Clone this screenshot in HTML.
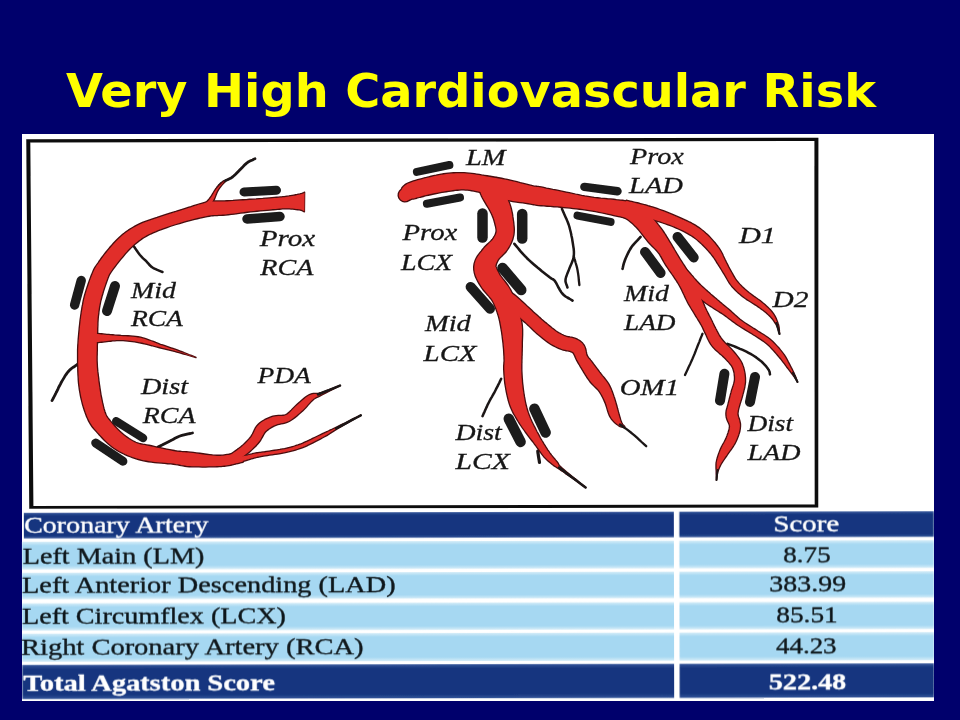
<!DOCTYPE html>
<html><head><meta charset="utf-8"><title>Very High Cardiovascular Risk</title>
<style>
html,body{margin:0;padding:0}
body{width:960px;height:720px;overflow:hidden;background:#00006c;position:relative;font-family:"Liberation Serif",serif}
h1{position:absolute;left:66px;top:60.8px;margin:0;font:bold 46px/60px "DejaVu Sans","Liberation Sans",sans-serif;color:#ffff00;white-space:nowrap;transform-origin:0 50%;transform:scaleX(1.0386)}
#pic{position:absolute;left:21.75px;top:133.75px;width:912px;height:567px;background:#fff}
svg{position:absolute;left:0;top:0}
.lbl text{font:italic 23.5px "Liberation Serif",serif;fill:#161616;stroke:#161616;stroke-width:.3px}
.tbl text{font:22.5px "Liberation Serif",serif;fill:#10181c;stroke:#10181c;stroke-width:.35px}
.tbl text.w{fill:#fff;stroke:#fff}
.tbl text.wb{fill:#fff;stroke:#fff;font-weight:bold}
</style></head><body>
<h1>Very High Cardiovascular Risk</h1>
<div id="pic"></div>
<svg width="960" height="720" viewBox="0 0 960 720">
<defs>
<linearGradient id="gr" x1="0" y1="0" x2="0" y2="1"><stop offset="0" stop-color="#d6edf8"/><stop offset="0.14" stop-color="#a6d8f2"/><stop offset="0.86" stop-color="#a6d8f2"/><stop offset="1" stop-color="#d6edf8"/></linearGradient>
<linearGradient id="gh" x1="0" y1="0" x2="0" y2="1"><stop offset="0" stop-color="#35569a"/><stop offset="0.12" stop-color="#16367f"/><stop offset="0.88" stop-color="#16367f"/><stop offset="1" stop-color="#35569a"/></linearGradient>
<filter id="bl" x="-2%" y="-2%" width="104%" height="104%"><feGaussianBlur stdDeviation="0.55"/></filter>
</defs>
<g filter="url(#bl)">
<path fill="#0c0c0c" fill-rule="evenodd" d="M26.25,139.25 L818.4,137.8 L818.25,507.4 L29.25,508.75Z M30.3,142.6 L814.4,141 L814.7,504.5 L33.4,506Z"/>
<g fill="none" stroke="#1a1414" stroke-linecap="round" stroke-linejoin="round"><path d="M212.5,201.0 212.7,200.2 212.8,199.5 212.9,198.8 213.1,198.0 213.3,197.1 213.8,196.0 214.4,194.6 215.1,192.9 215.9,191.0 216.9,189.1 217.8,187.4 218.8,186.0 219.7,184.9 220.7,183.9 221.7,183.1 222.8,182.4 223.9,181.7 225.0,181.0 226.2,180.3 227.4,179.8 228.6,179.2 229.9,178.6 231.2,177.9 232.5,177.0 233.9,175.8 235.3,174.5 236.8,173.0 238.3,171.5 239.7,170.1 241.0,168.8 242.2,167.6 243.3,166.4 244.3,165.3 245.3,164.3 246.4,163.4 247.5,162.5 248.7,161.7 249.9,161.1 251.2,160.5 252.5,159.9 253.7,159.3 255.0,158.8" stroke-width="2.8"/>
<path d="M133.8,246.2 134.8,247.7 135.8,249.3 136.9,250.8 137.9,252.3 139.0,253.7 140.0,255.0 141.0,256.2 142.1,257.3 143.1,258.3 144.2,259.3 145.2,260.2 146.2,261.2 147.2,262.3 148.2,263.4 149.1,264.5 150.1,265.5 151.2,266.6 152.5,267.5 153.9,268.4 155.6,269.1 157.3,269.9 159.0,270.6 160.8,271.3 162.5,272.0" stroke-width="2.5"/>
<path d="M78.0,364.0 76.4,365.1 74.9,366.2 73.3,367.2 71.7,368.3 70.2,369.6 68.8,371.0 67.4,372.7 66.0,374.6 64.7,376.6 63.5,378.6 62.3,380.6 61.2,382.5 60.3,384.3 59.4,386.0 58.5,387.7 57.8,389.4 57.0,391.0 56.2,392.5 55.5,394.0 54.8,395.3 54.1,396.7 53.4,398.0 52.7,399.3 52.0,400.6" stroke-width="2.8"/>
<path d="M158.0,447.0 160.0,446.0 162.1,445.0 164.1,443.9 166.1,442.9 168.1,441.9 170.0,441.0 171.8,440.1 173.4,439.2 175.0,438.3 176.6,437.5 178.2,436.7 180.0,436.0 181.9,435.4 184.0,434.9 186.1,434.4 188.2,433.9 190.4,433.5 192.5,433.0" stroke-width="2.8"/>
<path d="M514.4,243.8 516.1,245.8 517.9,248.0 519.6,250.1 521.3,252.2 523.1,254.2 525.0,256.2 527.0,258.2 529.0,260.1 531.1,262.0 533.3,263.9 535.4,265.7 537.5,267.5 539.7,269.3 541.9,271.2 544.2,273.0 546.4,274.7 548.4,276.2 550.0,277.5 551.2,278.4 552.1,278.9 552.8,279.2 553.4,279.6 554.1,280.2 555.0,281.2 556.1,282.9 557.2,285.0 558.4,287.3 559.7,289.7 561.1,291.9 562.5,293.8 564.0,295.2 565.6,296.5 567.3,297.5 569.1,298.5 570.8,299.5 572.5,300.6" stroke-width="2.6"/>
<path d="M561.9,208.8 563.1,211.5 564.3,214.2 565.5,216.9 566.7,219.6 567.8,222.3 568.8,225.0 569.6,227.7 570.3,230.5 571.0,233.2 571.5,235.9 572.1,238.6 572.5,241.2 572.9,243.8 573.3,246.4 573.7,248.9 573.9,251.4 573.9,253.8 573.8,256.2 573.3,258.7 572.5,261.1 571.5,263.4 570.5,265.7 569.6,267.9 568.8,270.0 568.0,271.9 567.3,273.7 566.7,275.4 566.1,277.0 565.7,278.5 565.5,280.0 565.5,281.4 565.8,282.7 566.2,283.9 566.6,285.1 567.1,286.3 567.5,287.5" stroke-width="2.5"/>
<path d="M573.8,256.2 574.4,258.5 575.1,260.8 575.7,263.0 576.4,265.3 577.0,267.6 577.5,270.0 577.9,272.4 578.3,274.9 578.6,277.4 578.8,280.0 579.1,282.5 579.4,285.0" stroke-width="2.3"/>
<path d="M640.6,236.9 639.0,238.6 637.4,240.4 635.7,242.1 634.1,243.8 632.6,245.6 631.2,247.5 630.0,249.5 628.8,251.7 627.7,253.9 626.7,256.0 625.8,258.1 625.0,260.0 624.4,261.7 623.9,263.2 623.5,264.6 623.2,266.0 622.9,267.3 622.5,268.8" stroke-width="2.6"/>
<path d="M702.5,333.8 701.7,335.8 700.8,337.9 700.0,340.0 699.2,342.1 698.3,344.2 697.5,346.2 696.7,348.3 695.9,350.3 695.2,352.3 694.4,354.3 693.5,356.4 692.5,358.8 691.4,361.2 690.2,363.9 688.9,366.6 687.6,369.4 686.3,372.2 685.0,375.0" stroke-width="2.3"/>
<path d="M727.5,343.8 729.6,344.6 731.7,345.4 733.8,346.2 735.8,347.0 737.9,347.8 740.0,348.8 742.1,349.7 744.3,350.7 746.4,351.7 748.5,352.8 750.6,353.9 752.5,355.0 754.4,356.2 756.2,357.4 757.9,358.7 759.5,360.0 761.1,361.2 762.5,362.5 763.8,363.8 765.0,365.1 766.2,366.4 767.2,367.7 768.0,368.9 768.8,370.0 769.2,370.9 769.5,371.7 769.7,372.4 769.8,373.0 769.8,373.7 770.0,374.4" stroke-width="2.5"/>
<path d="M501.2,378.8 500.2,380.8 499.2,383.0 498.1,385.1 497.1,387.2 496.0,389.2 495.0,391.2 494.0,393.2 492.9,395.0 491.9,396.8 490.8,398.6 489.8,400.5 488.8,402.5 487.7,404.6 486.7,406.9 485.6,409.2 484.6,411.6 483.5,413.9 482.5,416.2" stroke-width="2.5"/>
<path d="M537.8,451.2 538.0,453.1 538.3,455.0 538.6,456.9 538.9,458.8 539.2,460.6 539.5,462.5" stroke-width="3.2"/></g>
<g fill="#4a0d0f" stroke="#4a0d0f" stroke-width="1.4" stroke-linejoin="round"><path d="M304.6,192.2 304.1,192.4 303.8,192.6 303.4,192.8 302.9,193.0 302.3,193.3 301.6,193.5 300.8,193.7 299.8,194.0 298.6,194.2 297.2,194.5 295.6,194.8 294.0,195.1 292.3,195.4 290.5,195.7 288.8,196.0 287.1,196.2 285.6,196.4 284.2,196.6 282.9,196.7 281.5,196.9 280.1,197.0 278.5,197.1 276.7,197.3 274.5,197.5 272.0,197.7 269.1,197.9 266.0,198.1 262.8,198.4 259.4,198.6 256.0,198.9 252.7,199.1 249.4,199.3 246.2,199.6 242.9,199.8 239.5,200.0 236.2,200.2 233.0,200.5 229.9,200.7 227.0,200.8 224.5,201.0 222.4,201.0 220.6,201.0 218.9,201.0 217.2,200.9 215.4,200.9 213.4,201.0 211.2,201.1 208.8,201.5 206.4,202.0 203.9,202.6 201.4,203.3 198.9,204.1 196.3,204.9 193.6,205.7 191.0,206.6 188.2,207.5 185.3,208.4 182.2,209.3 179.0,210.3 175.8,211.4 172.5,212.4 169.2,213.5 166.0,214.5 163.0,215.5 160.0,216.5 157.0,217.5 154.0,218.4 151.1,219.4 148.2,220.4 145.3,221.4 142.5,222.5 139.8,223.7 137.3,224.9 134.9,226.2 132.6,227.5 130.4,228.8 128.3,230.2 126.3,231.6 124.4,233.1 122.4,234.6 120.5,236.2 118.6,238.0 116.8,239.7 115.1,241.5 113.4,243.3 111.8,245.1 110.3,246.8 108.8,248.6 107.3,250.4 105.8,252.3 104.3,254.2 102.8,256.1 101.4,258.0 100.1,259.8 98.9,261.5 97.9,263.1 97.0,264.3 96.3,265.3 95.6,266.3 94.9,267.4 94.2,268.6 93.6,269.9 93.0,271.3 92.3,273.0 91.4,275.1 90.5,277.6 89.5,280.3 88.4,283.2 87.4,286.2 86.4,289.2 85.5,292.1 84.7,294.8 84.0,297.4 83.4,300.0 82.9,302.5 82.5,304.9 82.0,307.2 81.7,309.5 81.3,311.7 81.0,313.8 80.7,315.9 80.4,318.0 80.1,319.9 79.9,321.8 79.7,323.7 79.5,325.5 79.3,327.4 79.1,329.4 78.9,331.5 78.7,333.7 78.5,336.0 78.3,338.4 78.1,340.7 78.0,343.1 77.8,345.4 77.7,347.7 77.6,349.9 77.6,352.1 77.6,354.2 77.6,356.4 77.6,358.6 77.6,360.8 77.6,363.1 77.7,365.4 77.8,367.8 77.8,370.2 77.9,372.7 78.0,375.3 78.2,377.8 78.3,380.3 78.5,382.8 78.8,385.3 79.1,387.6 79.4,389.9 79.8,392.2 80.2,394.4 80.6,396.7 81.1,398.9 81.7,401.1 82.2,403.3 82.8,405.5 83.5,407.7 84.2,410.0 85.0,412.2 85.8,414.5 86.6,416.7 87.6,418.8 88.5,420.9 89.5,422.7 90.5,424.4 91.6,426.0 92.7,427.5 93.8,428.8 94.9,430.1 96.1,431.4 97.4,432.8 98.8,434.4 100.4,436.1 102.1,438.0 104.0,439.9 105.9,441.8 108.0,443.7 110.1,445.5 112.2,447.2 114.4,448.7 116.5,450.1 118.7,451.4 120.9,452.6 123.2,453.7 125.5,454.8 127.8,455.8 130.1,456.7 132.4,457.6 134.7,458.4 136.9,459.1 139.2,459.7 141.4,460.3 143.6,460.8 146.0,461.2 148.5,461.7 151.4,462.1 154.6,462.5 157.9,462.8 161.3,463.1 164.6,463.4 167.8,463.7 170.9,463.9 173.5,464.2 175.8,464.6 177.8,464.9 179.6,465.2 181.3,465.6 183.0,465.9 184.9,466.2 187.0,466.5 189.4,466.7 192.2,466.8 195.3,466.9 198.7,466.9 202.2,467.0 205.7,467.0 209.1,466.9 212.2,466.9 214.9,466.8 217.2,466.7 219.2,466.6 221.1,466.5 222.7,466.4 224.3,466.2 225.7,466.0 227.2,465.8 228.9,465.5 230.7,465.2 232.5,464.8 234.3,464.4 236.1,463.9 237.9,463.5 239.7,463.0 241.4,462.6 243.1,462.2 240.9,451.8 239.1,452.2 237.3,452.6 235.5,453.0 233.7,453.3 232.0,453.7 230.3,454.0 228.7,454.3 227.1,454.5 225.6,454.7 224.2,454.9 222.9,455.1 221.7,455.2 220.4,455.3 218.9,455.3 217.2,455.3 215.1,455.2 212.6,455.0 209.7,454.7 206.5,454.3 203.1,453.8 199.7,453.3 196.4,452.9 193.3,452.5 190.6,452.1 188.4,451.9 186.4,451.8 184.7,451.7 183.1,451.6 181.5,451.5 179.7,451.3 177.8,451.1 175.5,450.8 172.8,450.3 169.8,449.7 166.7,449.1 163.4,448.4 160.2,447.7 157.1,447.1 154.1,446.4 151.5,445.8 149.0,445.3 146.7,444.9 144.6,444.5 142.7,444.2 140.9,443.8 139.3,443.4 137.6,442.9 135.9,442.3 134.2,441.5 132.5,440.6 130.8,439.6 129.1,438.5 127.5,437.4 125.9,436.2 124.3,435.0 122.8,433.8 121.3,432.5 119.7,431.0 118.1,429.4 116.5,427.8 114.9,426.1 113.3,424.4 111.9,422.7 110.6,421.2 109.5,419.8 108.6,418.7 107.8,417.7 107.3,416.8 106.8,416.1 106.4,415.3 105.9,414.3 105.5,413.1 105.0,411.8 104.5,410.2 104.0,408.5 103.5,406.6 103.1,404.7 102.6,402.7 102.2,400.6 101.8,398.7 101.4,396.7 101.0,394.8 100.7,392.9 100.4,390.9 100.1,388.9 99.8,386.9 99.5,384.8 99.2,382.7 98.9,380.6 98.7,378.3 98.4,376.1 98.1,373.7 97.8,371.4 97.6,369.1 97.4,366.8 97.3,364.6 97.2,362.5 97.1,360.5 97.1,358.5 97.1,356.5 97.2,354.5 97.2,352.5 97.3,350.4 97.3,348.3 97.3,346.1 97.4,343.9 97.4,341.6 97.4,339.4 97.5,337.1 97.5,334.9 97.6,332.7 97.7,330.6 97.7,328.6 97.8,326.7 97.9,324.9 97.9,323.2 98.0,321.5 98.1,319.8 98.2,318.1 98.4,316.2 98.7,314.1 98.9,312.1 99.2,310.0 99.5,307.8 99.9,305.7 100.3,303.6 100.7,301.4 101.3,299.2 101.9,296.8 102.7,294.2 103.5,291.4 104.4,288.6 105.3,285.9 106.2,283.3 107.0,281.0 107.7,279.0 108.3,277.5 108.7,276.4 109.0,275.8 109.2,275.3 109.4,274.9 109.7,274.3 110.3,273.4 111.1,272.1 112.1,270.7 113.2,269.2 114.4,267.5 115.7,265.8 117.0,264.1 118.4,262.3 119.8,260.6 121.2,258.9 122.6,257.3 124.0,255.6 125.4,253.9 126.8,252.3 128.2,250.7 129.7,249.2 131.1,247.8 132.6,246.4 134.1,245.0 135.7,243.7 137.3,242.4 138.9,241.1 140.6,239.9 142.3,238.6 144.2,237.5 146.2,236.3 148.3,235.2 150.6,234.0 153.1,232.9 155.7,231.8 158.4,230.7 161.3,229.6 164.1,228.5 167.0,227.5 170.0,226.4 173.1,225.4 176.3,224.4 179.5,223.5 182.7,222.5 185.9,221.6 188.9,220.8 191.8,220.0 194.6,219.3 197.3,218.7 199.9,218.1 202.4,217.5 204.8,217.0 207.0,216.6 209.2,216.2 211.2,215.9 212.9,215.7 214.3,215.6 215.7,215.5 217.2,215.5 218.8,215.4 220.8,215.4 223.0,215.2 225.5,215.0 228.3,214.7 231.2,214.4 234.3,214.0 237.5,213.5 240.8,213.1 244.2,212.7 247.4,212.2 250.6,211.9 253.8,211.5 257.1,211.2 260.4,210.9 263.8,210.6 267.0,210.3 270.1,210.0 273.0,209.7 275.5,209.5 277.7,209.3 279.5,209.2 281.1,209.0 282.5,208.9 283.8,208.8 285.1,208.8 286.4,208.8 287.9,208.8 289.5,208.8 291.1,209.0 292.8,209.1 294.5,209.3 296.1,209.5 297.7,209.7 299.1,209.9 300.2,210.0 301.1,210.2 301.8,210.5 302.2,210.7 302.6,210.9 302.9,211.1 303.4,211.3 303.9,211.6 304.4,211.8Z"/>
<path d="M234.8,462.9 236.4,461.7 238.1,460.6 239.7,459.4 241.4,458.2 243.1,457.0 244.8,455.7 246.5,454.5 248.1,453.2 249.6,451.9 251.1,450.6 252.5,449.3 253.8,448.0 255.2,446.7 256.5,445.4 257.7,444.0 259.0,442.5 260.3,440.8 261.3,439.0 262.3,437.4 263.1,435.9 263.8,434.5 264.5,433.4 265.1,432.5 265.8,431.7 266.6,430.9 267.7,430.1 268.8,429.2 270.0,428.4 271.3,427.6 272.7,426.9 274.1,426.2 275.4,425.5 276.5,425.0 277.8,424.6 279.3,424.3 281.1,423.9 283.0,423.5 285.0,423.0 287.1,422.3 289.2,421.4 291.2,420.2 293.1,419.0 294.9,417.6 296.7,416.2 298.3,414.7 300.0,413.3 301.4,412.0 302.9,410.7 304.3,409.3 305.8,407.8 307.1,406.3 308.3,404.9 309.5,403.6 310.6,402.4 311.6,401.3 312.6,400.4 313.5,399.6 314.2,399.0 315.0,398.5 316.0,397.9 317.1,397.4 318.3,396.8 319.8,396.1 321.5,395.2 323.4,394.2 325.5,393.1 327.8,391.9 330.2,390.7 332.7,389.4 335.2,388.2 337.7,386.9 340.1,385.7 339.9,385.5 337.5,386.5 334.9,387.5 332.3,388.5 329.7,389.5 327.2,390.5 324.8,391.4 322.5,392.2 320.5,392.8 318.8,393.2 317.4,393.4 316.1,393.5 314.8,393.5 313.5,393.5 312.1,393.7 310.6,394.1 309.0,394.8 307.4,395.8 305.8,396.9 304.2,398.1 302.8,399.3 301.3,400.6 299.9,401.9 298.5,403.1 297.1,404.3 295.6,405.7 294.1,407.2 292.6,408.7 291.2,410.2 289.8,411.6 288.4,412.8 287.1,413.9 285.8,414.6 284.6,415.1 283.2,415.3 281.7,415.5 280.1,415.5 278.3,415.5 276.3,415.7 274.2,415.9 272.1,416.5 270.2,417.2 268.4,417.9 266.7,418.6 264.9,419.5 263.2,420.5 261.5,421.6 259.8,422.9 258.2,424.3 256.7,426.0 255.5,427.7 254.5,429.5 253.7,431.2 253.0,432.7 252.4,434.1 251.7,435.2 251.0,436.3 250.1,437.5 249.1,438.7 248.0,439.9 246.9,441.1 245.7,442.3 244.5,443.5 243.2,444.7 241.9,445.8 240.5,447.0 239.1,448.1 237.5,449.2 235.9,450.4 234.3,451.5 232.6,452.7 230.9,453.9 229.2,455.1Z"/>
<path d="M228.7,465.2 230.5,464.7 232.4,464.2 234.3,463.7 236.2,463.2 238.1,462.7 240.0,462.2 241.8,461.7 243.6,461.2 245.3,460.8 246.9,460.3 248.5,459.8 250.0,459.3 251.4,458.9 252.8,458.5 254.2,458.1 255.5,457.7 256.7,457.4 257.8,457.2 258.8,457.0 259.8,456.8 260.9,456.6 262.2,456.4 263.6,456.1 265.3,455.8 267.4,455.5 269.7,455.1 272.3,454.8 275.0,454.4 277.7,454.0 280.5,453.5 283.0,453.1 285.4,452.6 287.6,452.1 289.7,451.6 291.7,451.1 293.7,450.5 295.6,450.0 297.3,449.4 299.0,448.9 300.7,448.3 302.2,447.8 303.5,447.3 304.7,446.8 305.9,446.3 307.0,445.8 308.2,445.2 309.4,444.6 310.9,443.8 312.6,443.0 314.4,442.1 316.3,441.1 318.3,440.1 320.3,439.1 322.3,438.0 324.1,437.0 325.8,436.1 327.3,435.3 328.5,434.5 329.6,433.8 330.6,433.1 331.7,432.4 333.0,431.6 334.5,430.6 336.5,429.4 338.9,428.0 341.6,426.4 344.6,424.7 347.8,422.9 351.1,421.0 354.4,419.1 357.7,417.2 360.9,415.4 360.7,415.2 357.5,416.8 354.1,418.5 350.7,420.2 347.3,421.8 344.0,423.5 340.8,425.0 338.0,426.4 335.5,427.6 333.4,428.6 331.8,429.4 330.4,430.0 329.2,430.6 328.1,431.1 326.9,431.6 325.7,432.2 324.2,432.9 322.4,433.7 320.6,434.6 318.6,435.6 316.6,436.6 314.5,437.6 312.6,438.5 310.8,439.4 309.1,440.2 307.6,440.8 306.4,441.5 305.2,442.0 304.1,442.5 303.1,443.0 302.0,443.5 300.7,444.0 299.3,444.5 297.8,445.0 296.1,445.5 294.4,446.1 292.6,446.6 290.7,447.1 288.7,447.6 286.7,448.1 284.6,448.6 282.3,449.0 279.8,449.5 277.1,449.9 274.4,450.3 271.7,450.7 269.1,451.1 266.7,451.5 264.7,451.8 263.0,452.0 261.5,452.2 260.3,452.4 259.2,452.5 258.1,452.7 257.0,452.8 255.8,453.0 254.5,453.3 253.1,453.5 251.6,453.9 250.1,454.2 248.7,454.6 247.2,454.9 245.6,455.2 244.1,455.5 242.4,455.8 240.7,455.9 238.9,456.1 237.1,456.2 235.1,456.3 233.2,456.4 231.2,456.5 229.2,456.6 227.3,456.8Z"/>
<path d="M92.0,343.3 93.6,343.1 95.2,342.9 96.7,342.7 98.3,342.5 99.9,342.3 101.5,342.2 103.2,342.0 105.0,341.8 106.9,341.6 108.8,341.4 110.7,341.2 112.7,340.9 114.7,340.8 116.7,340.6 118.7,340.5 120.9,340.5 123.1,340.6 125.4,340.8 127.7,341.0 130.0,341.3 132.4,341.6 134.7,341.9 137.1,342.3 139.4,342.7 141.8,343.2 144.3,343.8 146.8,344.4 149.4,345.1 152.0,345.7 154.5,346.4 157.1,347.1 159.5,347.7 161.8,348.3 164.0,348.8 166.1,349.3 168.2,349.8 170.2,350.3 172.3,350.9 174.5,351.4 176.7,352.0 179.0,352.6 181.3,353.3 183.7,354.0 186.2,354.7 188.6,355.4 191.1,356.2 193.5,356.9 196.0,357.6 196.0,357.4 193.7,356.5 191.3,355.5 188.9,354.6 186.6,353.6 184.2,352.7 181.9,351.7 179.6,350.8 177.3,350.0 175.1,349.2 173.0,348.5 171.0,347.8 169.0,347.1 166.9,346.4 164.9,345.7 162.7,345.0 160.5,344.3 158.2,343.4 155.8,342.5 153.4,341.5 150.8,340.6 148.3,339.6 145.7,338.7 143.1,337.9 140.6,337.3 138.0,336.8 135.5,336.4 133.0,336.2 130.5,336.0 128.1,335.8 125.7,335.7 123.4,335.6 121.1,335.5 118.9,335.3 116.8,335.1 114.6,335.0 112.6,334.8 110.6,334.7 108.7,334.5 106.8,334.4 105.0,334.2 103.2,334.0 101.5,333.8 99.9,333.7 98.3,333.5 96.7,333.3 95.2,333.1 93.6,332.9 92.0,332.7Z"/>
<path d="M208.6,209.0 209.3,208.0 209.9,206.9 210.6,205.9 211.3,204.8 211.9,203.7 212.6,202.6 213.3,201.4 214.0,200.2 214.6,198.9 215.1,197.6 215.6,196.3 216.1,195.0 216.6,193.8 217.0,192.6 217.6,191.4 218.2,190.3 218.8,189.2 219.6,188.2 220.3,187.2 221.2,186.1 222.0,185.1 222.9,184.1 223.8,183.1 224.6,182.0 223.4,181.0 222.5,181.9 221.5,182.8 220.6,183.7 219.6,184.7 218.6,185.6 217.7,186.6 216.7,187.6 215.8,188.7 215.0,189.9 214.2,191.1 213.5,192.3 212.8,193.5 212.1,194.6 211.4,195.8 210.8,196.8 210.0,197.8 209.3,198.7 208.5,199.6 207.7,200.5 206.9,201.4 206.0,202.3 205.1,203.1 204.2,204.1 203.4,205.0Z"/>
<path d="M409.0,200.5 410.0,200.1 411.0,199.5 411.8,199.2 412.3,199.1 412.7,199.1 413.0,199.1 413.4,199.1 414.2,198.9 415.3,198.6 416.8,198.2 418.4,197.7 420.2,197.2 422.2,196.7 424.2,196.2 426.2,195.6 428.3,195.2 430.5,194.7 432.7,194.2 435.0,193.7 437.3,193.3 439.6,192.8 441.9,192.4 444.1,192.0 446.3,191.7 448.5,191.4 450.8,191.0 453.0,190.7 455.2,190.4 457.3,190.2 459.4,190.0 461.4,189.9 463.5,189.9 465.5,190.0 467.5,190.1 469.5,190.4 471.6,190.7 473.7,191.1 476.0,191.5 478.3,192.0 480.7,192.6 483.2,193.3 485.6,194.1 488.2,195.0 490.9,195.9 493.7,196.9 496.7,197.9 499.7,198.8 502.7,199.5 505.9,200.2 509.3,200.9 512.8,201.5 516.3,202.0 519.7,202.5 522.9,202.9 525.8,203.4 528.2,203.7 530.1,204.1 531.5,204.3 532.6,204.5 533.5,204.7 534.5,204.9 535.5,205.1 536.8,205.2 538.7,205.5 541.1,205.7 543.9,205.9 547.1,206.2 550.4,206.4 553.8,206.7 557.2,206.9 560.6,207.2 563.8,207.5 567.0,207.8 570.1,208.1 573.2,208.5 576.4,208.8 579.5,209.2 582.7,209.6 585.8,210.0 589.0,210.5 592.2,211.0 595.5,211.6 598.8,212.3 602.0,212.9 605.2,213.6 608.2,214.3 611.0,214.9 613.6,215.5 616.1,216.1 618.3,216.5 620.1,216.9 621.7,217.2 623.0,217.6 624.1,218.0 625.1,218.4 626.2,218.9 627.4,219.6 628.6,220.4 629.8,221.4 631.0,222.4 632.3,223.6 633.6,224.8 635.0,226.2 636.4,227.5 637.7,229.0 639.1,230.5 640.5,232.3 641.9,234.2 643.4,236.1 644.9,238.0 646.4,239.9 647.9,241.8 649.4,243.4 650.9,245.0 652.3,246.4 653.7,247.8 655.0,249.1 656.3,250.5 657.5,251.8 658.5,253.1 659.5,254.4 660.3,255.8 661.1,257.1 661.9,258.6 662.7,260.1 663.6,261.7 664.6,263.4 665.6,265.1 666.8,266.9 668.1,268.7 669.3,270.6 670.6,272.4 671.9,274.2 673.1,275.9 674.2,277.5 675.2,279.0 676.1,280.3 676.8,281.5 677.5,282.6 678.2,283.7 678.8,284.7 679.4,285.8 680.0,287.0 680.8,288.4 681.5,289.8 682.3,291.5 683.1,293.2 684.0,295.0 684.8,296.9 685.7,298.7 686.6,300.5 687.4,302.2 688.3,303.8 689.2,305.3 690.0,306.7 690.9,308.2 691.8,309.6 692.7,311.0 693.5,312.5 694.4,314.0 695.3,315.5 696.3,317.0 697.2,318.5 698.1,320.0 699.0,321.4 699.9,322.8 700.6,324.1 701.3,325.2 701.8,326.2 702.2,327.0 702.6,327.8 702.9,328.5 703.3,329.4 703.7,330.3 704.2,331.4 704.8,332.6 705.4,333.9 706.1,335.3 706.8,336.9 707.6,338.6 708.5,340.5 709.5,342.4 710.7,344.3 712.1,346.2 713.7,348.1 715.5,349.9 717.3,351.5 719.1,353.1 720.9,354.6 722.5,356.1 724.0,357.4 725.3,358.7 726.5,360.1 727.8,361.4 728.9,362.6 729.8,363.7 730.7,364.8 731.5,365.9 732.1,366.9 732.6,368.1 733.1,369.4 733.5,370.7 733.9,372.2 734.2,373.7 734.3,375.3 734.5,376.9 734.5,378.4 734.5,379.8 734.3,381.1 734.0,382.5 733.7,383.9 733.2,385.5 732.7,387.1 732.1,388.7 731.5,390.5 731.1,392.2 730.6,393.8 730.2,395.4 729.8,396.9 729.4,398.5 729.0,400.1 728.6,401.6 728.2,403.2 727.9,404.6 727.6,405.8 727.2,406.9 726.9,408.1 726.5,409.3 726.2,410.7 726.0,412.1 725.9,413.8 726.0,415.6 726.3,417.6 726.9,419.5 727.6,421.1 728.2,422.4 728.7,423.6 729.1,424.6 729.4,425.4 729.5,426.2 729.4,427.1 729.2,428.4 728.9,429.7 728.5,431.2 728.1,432.7 727.5,434.2 727.0,435.8 726.4,437.3 725.8,438.6 725.2,439.9 724.5,441.3 723.7,442.8 722.8,444.3 722.0,445.8 721.2,447.4 720.4,449.1 719.8,450.6 719.2,452.2 718.6,453.8 718.0,455.4 717.5,456.9 717.1,458.5 716.7,460.0 716.4,461.6 716.1,463.0 716.0,464.5 716.0,465.8 716.0,467.1 716.0,468.4 716.1,469.6 716.2,470.8 716.2,471.9 716.2,473.0 716.2,474.1 716.3,475.1 716.3,476.1 716.3,477.1 716.3,478.0 716.4,479.0 716.4,480.0 716.6,480.0 716.7,479.0 716.8,478.0 716.9,477.1 717.0,476.1 717.1,475.1 717.3,474.1 717.5,473.1 717.8,472.1 718.1,471.0 718.5,469.9 718.9,468.9 719.4,467.8 719.9,466.7 720.4,465.6 721.0,464.5 721.6,463.4 722.3,462.3 723.1,461.1 723.9,459.9 724.8,458.7 725.7,457.4 726.6,456.1 727.5,454.7 728.4,453.4 729.3,452.2 730.2,450.9 731.2,449.5 732.2,448.1 733.2,446.6 734.2,445.0 735.2,443.3 736.1,441.5 736.9,439.8 737.6,438.1 738.3,436.3 738.9,434.4 739.5,432.5 740.0,430.5 740.3,428.5 740.5,426.3 740.5,424.0 740.1,421.9 739.6,419.9 739.1,418.3 738.6,416.9 738.3,415.7 738.1,415.0 738.0,414.4 738.0,413.8 738.0,413.2 738.1,412.5 738.2,411.8 738.3,410.9 738.5,409.9 738.8,408.7 739.1,407.4 739.5,406.1 739.9,404.8 740.3,403.3 740.8,401.8 741.3,400.3 741.8,398.6 742.3,396.9 742.7,395.3 743.1,393.7 743.6,392.1 744.0,390.4 744.5,388.5 744.9,386.5 745.2,384.5 745.5,382.3 745.5,380.2 745.5,378.1 745.3,376.0 745.1,374.0 744.7,371.9 744.3,369.9 743.8,367.8 743.1,365.9 742.4,363.9 741.5,362.0 740.5,360.3 739.4,358.6 738.3,357.1 737.1,355.6 736.0,354.2 734.8,352.8 733.5,351.3 732.0,349.6 730.4,347.9 728.7,346.2 727.0,344.6 725.4,343.0 724.0,341.5 722.7,340.1 721.7,338.8 720.8,337.5 719.9,336.1 719.0,334.7 718.2,333.2 717.4,331.7 716.7,330.2 715.9,328.8 715.2,327.4 714.6,326.3 714.1,325.4 713.8,324.6 713.4,323.8 713.0,323.0 712.6,322.1 712.1,321.0 711.5,319.8 710.9,318.5 710.1,317.0 709.3,315.6 708.6,314.1 707.8,312.5 707.0,311.0 706.3,309.5 705.6,308.0 704.9,306.6 704.3,305.1 703.7,303.6 703.1,302.1 702.5,300.6 701.9,299.0 701.3,297.4 700.6,295.8 699.8,294.1 699.0,292.4 698.1,290.6 697.3,288.7 696.4,286.9 695.5,285.1 694.6,283.3 693.7,281.6 693.0,280.2 692.3,278.8 691.6,277.6 690.9,276.3 690.2,275.1 689.5,273.8 688.7,272.5 687.8,271.0 686.8,269.4 685.7,267.6 684.5,265.7 683.3,263.9 682.1,262.0 680.9,260.2 679.9,258.5 678.9,256.9 678.0,255.4 677.1,254.0 676.3,252.5 675.4,251.0 674.5,249.5 673.6,247.9 672.5,246.1 671.5,244.4 670.4,242.6 669.3,240.8 668.3,239.1 667.2,237.3 666.1,235.5 665.0,233.8 663.8,232.0 662.6,230.2 661.3,228.5 659.9,226.6 658.3,224.6 656.7,222.5 655.1,220.4 653.3,218.4 651.5,216.3 649.6,214.5 647.8,212.8 646.1,211.2 644.2,209.6 642.3,208.1 640.3,206.7 638.3,205.4 636.1,204.2 633.8,203.1 631.4,202.1 629.1,201.4 626.9,200.9 624.8,200.6 622.7,200.3 620.7,200.1 618.7,199.9 616.4,199.7 613.7,199.3 610.7,199.0 607.5,198.8 604.2,198.5 600.9,198.2 597.5,197.8 594.2,197.5 591.0,197.0 587.9,196.5 584.8,196.0 581.7,195.4 578.6,194.7 575.5,194.1 572.4,193.4 569.3,192.7 566.2,192.1 562.9,191.4 559.5,190.7 556.1,190.0 552.8,189.4 549.5,188.7 546.4,188.1 543.7,187.5 541.3,187.0 539.5,186.7 538.1,186.5 537.2,186.4 536.5,186.3 535.8,186.2 534.9,186.1 533.6,185.9 531.8,185.5 529.4,184.9 526.6,184.2 523.5,183.4 520.2,182.6 516.9,181.7 513.5,180.9 510.3,180.1 507.3,179.5 504.4,178.9 501.6,178.3 498.7,177.8 495.8,177.3 492.9,176.8 490.0,176.3 487.1,175.8 484.3,175.4 481.6,175.0 479.1,174.5 476.7,174.1 474.2,173.7 471.7,173.4 469.2,173.1 466.7,172.9 464.0,172.7 461.4,172.6 458.8,172.6 456.2,172.7 453.6,172.8 451.1,173.0 448.6,173.2 446.1,173.5 443.7,173.8 441.2,174.2 438.6,174.6 436.1,175.2 433.5,175.7 431.1,176.3 428.7,176.9 426.4,177.5 424.2,178.0 422.0,178.6 419.8,179.2 417.6,179.8 415.4,180.4 413.4,181.0 411.4,181.6 409.6,182.3 407.8,183.1 406.2,183.9 404.7,184.9 403.5,186.0 402.6,187.0 401.9,187.8 401.6,188.5 401.4,188.9 401.0,189.5 399.4,191.2 398.4,193.3 398.2,195.7 398.9,198.0 400.3,199.9 402.2,201.2 404.5,201.8 406.9,201.5Z"/>
<path d="M623.7,213.7 625.6,214.0 627.5,214.3 629.3,214.5 631.1,214.8 632.9,215.1 634.8,215.4 636.6,215.7 638.5,216.1 640.5,216.6 642.6,217.1 644.7,217.6 646.8,218.2 649.0,218.8 651.2,219.4 653.4,220.1 655.6,220.7 657.9,221.4 660.2,222.2 662.6,222.9 664.9,223.7 667.3,224.5 669.6,225.4 671.9,226.2 674.1,227.1 676.2,228.0 678.3,228.9 680.4,229.9 682.4,230.9 684.4,231.8 686.2,232.8 688.0,233.8 689.6,234.8 691.2,235.7 692.6,236.6 693.8,237.5 695.1,238.4 696.3,239.3 697.5,240.3 698.7,241.4 700.0,242.6 701.4,243.8 702.8,245.2 704.3,246.7 705.8,248.2 707.2,249.7 708.6,251.2 709.8,252.7 711.0,254.0 711.9,255.3 712.8,256.5 713.7,257.7 714.5,258.9 715.3,260.1 716.1,261.4 716.9,262.8 717.8,264.1 718.6,265.4 719.4,266.7 720.2,267.9 721.0,269.2 721.8,270.5 722.6,271.8 723.4,273.1 724.2,274.4 725.0,275.7 725.8,277.1 726.6,278.5 727.4,280.0 728.3,281.5 729.3,283.1 730.4,284.6 731.6,286.2 732.8,287.6 734.2,289.1 735.6,290.5 737.0,291.8 738.5,293.2 740.1,294.5 741.7,295.9 743.4,297.2 745.2,298.5 747.1,299.8 749.0,301.0 751.0,302.2 752.9,303.4 754.7,304.6 756.5,305.7 758.1,306.8 759.8,308.0 761.3,309.1 762.9,310.3 764.4,311.4 765.8,312.5 767.1,313.7 768.3,314.8 769.5,315.9 770.6,317.0 771.6,318.2 772.6,319.4 773.5,320.6 774.3,321.8 775.1,323.0 775.9,324.2 776.5,325.4 777.1,326.5 777.5,327.6 777.9,328.6 778.2,329.7 778.5,330.8 778.8,331.8 779.1,332.9 779.4,334.0 779.6,334.0 779.5,332.8 779.4,331.7 779.4,330.6 779.3,329.5 779.2,328.4 779.1,327.2 778.8,325.9 778.5,324.6 778.0,323.3 777.6,321.9 777.0,320.4 776.4,318.9 775.7,317.4 774.9,315.9 774.0,314.4 773.0,312.9 771.9,311.5 770.6,310.1 769.3,308.7 767.9,307.3 766.5,306.0 765.0,304.6 763.4,303.3 761.9,302.0 760.2,300.6 758.3,299.3 756.5,298.0 754.6,296.7 752.8,295.4 751.0,294.1 749.3,292.9 747.8,291.6 746.3,290.3 744.9,289.1 743.5,287.8 742.1,286.5 740.9,285.2 739.6,283.9 738.5,282.6 737.4,281.3 736.5,280.1 735.6,278.8 734.8,277.5 734.0,276.2 733.2,274.8 732.4,273.4 731.6,272.0 730.8,270.6 730.0,269.2 729.3,267.9 728.6,266.6 728.0,265.3 727.3,263.9 726.6,262.6 725.9,261.2 725.2,259.9 724.6,258.5 724.0,257.2 723.3,255.8 722.7,254.4 721.9,252.8 721.1,251.3 720.1,249.6 719.0,248.0 717.8,246.3 716.5,244.6 715.1,242.8 713.6,241.1 712.1,239.4 710.5,237.7 709.0,236.1 707.5,234.6 706.0,233.3 704.6,232.0 703.2,230.8 701.8,229.7 700.3,228.5 698.8,227.4 697.1,226.3 695.4,225.2 693.5,224.1 691.5,223.0 689.4,222.0 687.3,220.9 685.1,219.9 682.9,218.9 680.7,217.9 678.4,216.9 676.1,215.9 673.8,214.9 671.4,213.9 669.0,212.9 666.5,211.9 664.1,211.0 661.7,210.1 659.4,209.3 657.1,208.5 654.8,207.7 652.5,207.0 650.2,206.3 648.0,205.7 645.8,205.0 643.6,204.5 641.5,203.9 639.4,203.3 637.4,202.8 635.4,202.4 633.6,202.0 631.7,201.5 629.9,201.1 628.1,200.7 626.3,200.3Z"/>
<path d="M675.2,268.5 676.1,269.7 677.1,270.8 678.0,272.0 678.9,273.1 679.9,274.2 680.8,275.4 681.7,276.6 682.7,277.8 683.7,279.1 684.7,280.4 685.7,281.8 686.8,283.3 687.9,284.8 689.1,286.3 690.2,287.7 691.4,289.2 692.6,290.6 693.8,292.0 695.0,293.4 696.2,294.8 697.5,296.1 698.8,297.5 700.1,298.7 701.5,300.0 703.0,301.2 704.5,302.3 706.0,303.4 707.5,304.4 709.0,305.4 710.4,306.3 711.9,307.2 713.3,308.1 714.7,309.1 716.0,309.9 717.3,310.7 718.5,311.5 719.8,312.3 721.1,313.1 722.5,314.0 723.9,315.0 725.5,316.1 727.1,317.3 728.9,318.6 730.7,320.0 732.5,321.4 734.4,322.8 736.3,324.2 738.2,325.5 740.2,326.7 742.1,328.0 744.0,329.1 746.0,330.3 747.9,331.4 749.8,332.6 751.7,333.7 753.5,334.9 755.3,336.0 757.1,337.2 758.9,338.3 760.6,339.4 762.3,340.6 764.0,341.7 765.6,342.9 767.1,344.2 768.6,345.6 770.2,347.1 771.7,348.7 773.2,350.3 774.7,352.0 776.1,353.6 777.5,355.2 778.8,356.7 780.0,358.2 781.2,359.6 782.3,361.1 783.4,362.5 784.5,363.9 785.5,365.3 786.5,366.7 787.5,368.0 788.4,369.2 789.3,370.4 790.2,371.5 791.0,372.5 791.7,373.6 792.5,374.6 793.2,375.5 793.8,376.4 794.4,377.2 794.9,378.0 795.3,378.7 795.8,379.4 796.2,380.0 796.6,380.7 797.0,381.4 797.4,382.1 797.6,381.9 797.3,381.2 797.1,380.5 796.8,379.7 796.5,379.0 796.3,378.2 796.0,377.4 795.6,376.6 795.2,375.6 794.7,374.6 794.2,373.5 793.7,372.4 793.2,371.2 792.6,370.0 791.9,368.7 791.2,367.4 790.5,366.0 789.8,364.6 789.0,363.1 788.2,361.6 787.4,360.0 786.5,358.3 785.5,356.6 784.4,354.9 783.2,353.3 781.9,351.6 780.5,349.9 779.1,348.1 777.5,346.4 775.9,344.7 774.3,343.0 772.6,341.3 770.9,339.8 769.1,338.4 767.4,337.0 765.5,335.8 763.7,334.6 761.9,333.5 760.1,332.4 758.3,331.3 756.5,330.1 754.7,328.9 752.8,327.8 750.9,326.6 749.0,325.4 747.1,324.2 745.3,323.0 743.5,321.8 741.8,320.5 740.1,319.2 738.4,317.8 736.7,316.3 735.0,314.8 733.3,313.2 731.7,311.8 730.1,310.3 728.6,309.0 727.1,307.8 725.8,306.7 724.6,305.7 723.4,304.7 722.2,303.8 721.1,302.8 719.9,301.9 718.7,300.9 717.4,299.8 716.1,298.6 714.8,297.5 713.5,296.4 712.2,295.3 710.9,294.2 709.7,293.1 708.5,292.0 707.3,290.9 706.0,289.8 704.8,288.7 703.5,287.5 702.3,286.4 701.0,285.2 699.8,284.0 698.6,282.8 697.4,281.6 696.3,280.3 695.1,279.0 693.9,277.6 692.8,276.2 691.6,274.9 690.4,273.5 689.3,272.2 688.2,271.0 687.1,269.9 686.0,268.7 684.9,267.7 683.9,266.6 682.9,265.6 681.9,264.5 680.8,263.5Z"/>
<path d="M477.8,186.6 478.3,187.9 478.7,189.1 479.1,190.3 479.5,191.5 480.0,192.8 480.6,194.1 481.2,195.6 482.0,197.2 482.9,199.0 484.0,200.9 485.2,202.9 486.3,204.8 487.5,206.7 488.6,208.5 489.5,210.2 490.3,211.6 491.0,213.0 491.6,214.3 492.1,215.5 492.6,216.7 493.1,217.9 493.5,219.1 493.9,220.4 494.3,221.9 494.7,223.4 495.1,225.0 495.5,226.4 495.8,227.8 496.0,229.0 496.1,230.1 496.1,230.9 496.0,231.7 495.9,232.5 495.7,233.3 495.3,234.1 494.9,235.0 494.4,236.0 493.8,237.0 493.1,238.1 492.4,239.1 491.8,239.8 491.0,240.7 490.0,241.7 488.7,242.9 487.2,244.3 485.7,245.8 484.0,247.6 482.4,249.5 481.2,251.1 479.9,252.7 478.6,254.4 477.3,256.2 476.1,258.4 475.0,260.9 474.1,263.7 473.7,266.8 473.8,269.9 474.3,272.8 475.0,275.4 475.9,277.8 477.0,280.0 478.0,282.0 479.1,283.9 480.4,285.9 481.9,288.2 483.6,290.5 485.4,292.5 487.0,294.4 488.6,296.1 489.9,297.7 491.0,299.1 491.9,300.4 492.7,301.7 493.5,303.3 494.2,304.9 495.0,306.6 495.7,308.4 496.4,310.3 497.1,312.2 497.7,314.2 498.3,316.1 498.8,317.9 499.2,319.6 499.6,321.2 499.9,322.8 500.2,324.3 500.5,325.9 500.8,327.6 501.1,329.4 501.5,331.5 501.8,333.7 502.1,336.0 502.4,338.4 502.7,340.8 503.0,343.2 503.2,345.4 503.4,347.4 503.6,349.4 503.7,351.4 503.8,353.3 503.9,355.1 504.0,356.8 504.0,358.5 504.1,359.9 504.1,361.1 504.0,362.0 503.9,362.8 503.9,363.7 503.8,364.7 503.7,366.0 503.7,367.5 503.7,369.1 503.8,370.8 503.9,372.7 504.0,374.7 504.2,376.9 504.4,379.2 504.6,381.5 504.9,383.9 505.3,386.2 505.7,388.5 506.1,390.9 506.6,393.3 507.1,395.7 507.7,398.2 508.3,400.6 509.0,402.9 509.8,405.2 510.5,407.3 511.4,409.3 512.3,411.3 513.2,413.1 514.2,414.8 515.2,416.5 516.1,418.2 517.1,419.8 518.1,421.5 519.1,423.1 520.1,424.7 521.2,426.2 522.2,427.7 523.3,429.2 524.4,430.7 525.5,432.3 526.6,433.9 527.9,435.5 529.1,437.2 530.4,438.8 531.7,440.5 533.0,442.1 534.2,443.7 535.4,445.2 536.5,446.8 537.6,448.3 538.7,449.9 539.7,451.4 540.8,452.9 541.9,454.4 543.1,455.9 544.2,457.2 545.5,458.5 546.7,459.8 548.0,460.9 549.2,462.0 550.5,463.0 551.6,463.9 552.7,464.8 553.7,465.6 554.5,466.1 555.0,466.4 555.4,466.7 555.9,467.0 556.5,467.4 557.3,467.9 558.5,468.6 560.2,469.8 562.5,471.3 565.2,473.3 568.3,475.4 571.7,477.8 575.2,480.3 578.8,482.8 582.2,485.3 585.5,487.6 585.7,487.4 582.5,484.9 579.2,482.2 575.9,479.4 572.5,476.7 569.3,474.1 566.4,471.7 563.9,469.5 561.8,467.7 560.3,466.4 559.4,465.4 558.9,464.7 558.6,464.3 558.5,463.9 558.3,463.4 557.9,462.8 557.3,461.9 556.4,460.9 555.5,459.9 554.6,458.8 553.6,457.6 552.6,456.4 551.6,455.2 550.7,454.0 549.8,452.8 548.9,451.5 547.9,450.1 547.0,448.7 546.0,447.2 545.1,445.6 544.1,444.1 543.1,442.4 542.1,440.8 541.1,439.1 540.1,437.3 539.2,435.5 538.2,433.7 537.2,432.0 536.3,430.2 535.4,428.4 534.5,426.7 533.7,425.1 532.9,423.5 532.1,421.9 531.4,420.4 530.7,418.8 530.1,417.3 529.5,415.8 528.9,414.2 528.3,412.5 527.8,410.9 527.3,409.2 526.8,407.6 526.4,405.9 526.0,404.3 525.6,402.6 525.2,400.8 524.9,398.9 524.5,396.9 524.2,394.8 523.8,392.6 523.5,390.3 523.2,388.1 523.0,385.9 522.7,383.8 522.5,381.8 522.4,379.8 522.2,377.7 522.1,375.7 522.0,373.7 521.9,371.8 521.8,370.0 521.8,368.4 521.8,367.2 521.8,366.4 521.8,365.6 521.8,364.9 521.8,364.0 521.9,362.9 521.9,361.6 521.9,360.1 522.0,358.4 522.0,356.7 522.1,354.9 522.1,353.0 522.2,351.0 522.2,348.9 522.3,346.8 522.3,344.6 522.3,342.4 522.4,340.1 522.5,337.6 522.6,335.0 522.6,332.3 522.6,329.6 522.4,327.0 522.2,324.4 521.8,321.9 521.3,319.7 520.7,317.5 520.0,315.4 519.3,313.5 518.6,311.6 517.9,309.7 517.3,307.8 516.7,305.8 516.0,303.8 515.4,301.7 514.7,299.4 513.9,297.1 513.0,294.6 511.9,292.2 510.6,289.6 509.0,287.0 507.4,284.5 505.7,282.3 504.1,280.2 502.6,278.4 501.3,276.7 500.4,275.3 499.6,274.1 498.9,272.7 498.1,271.2 497.5,269.9 497.0,268.8 496.7,268.0 496.5,267.5 496.4,267.2 496.3,267.2 496.2,267.2 496.0,266.9 496.0,266.3 496.1,265.5 496.4,264.4 496.8,263.1 497.5,261.7 498.1,260.5 498.6,259.6 499.3,258.7 500.3,257.6 501.6,256.4 503.0,255.0 504.6,253.5 506.2,251.7 507.6,249.7 508.7,248.0 509.7,246.3 510.6,244.5 511.5,242.7 512.3,240.7 513.0,238.7 513.5,236.6 514.0,234.3 514.2,231.9 514.3,229.6 514.2,227.4 514.0,225.4 513.8,223.4 513.6,221.5 513.3,219.8 513.1,218.1 512.8,216.4 512.6,214.7 512.3,212.9 511.9,211.1 511.5,209.3 511.0,207.4 510.4,205.4 509.7,203.4 508.9,201.2 507.9,198.9 506.9,196.6 505.8,194.4 504.8,192.2 503.8,190.2 502.9,188.4 502.0,186.8 501.3,185.4 500.5,184.1 499.8,182.9 499.1,181.8 498.4,180.7 497.7,179.7 496.9,178.6 496.2,177.4Z"/>
<path d="M500.9,300.8 501.6,301.6 502.3,302.3 502.8,303.0 503.4,303.7 504.1,304.4 504.9,305.3 505.9,306.3 507.2,307.5 508.9,309.0 510.9,310.7 513.1,312.5 515.5,314.5 517.9,316.5 520.3,318.5 522.5,320.4 524.5,322.1 526.2,323.6 527.9,325.2 529.4,326.6 530.9,328.1 532.4,329.5 533.9,330.9 535.4,332.3 536.9,333.7 538.5,335.0 540.0,336.3 541.5,337.5 543.0,338.8 544.6,340.0 546.2,341.2 547.8,342.3 549.4,343.4 550.9,344.4 552.5,345.3 554.0,346.2 555.6,346.9 557.0,347.6 558.5,348.3 559.9,348.9 561.4,349.4 563.1,350.0 564.7,350.4 566.2,350.7 567.5,350.9 568.6,351.1 569.5,351.3 570.0,351.4 570.4,351.6 571.0,351.8 571.6,352.0 571.9,352.2 572.2,352.3 572.3,352.4 572.4,352.5 572.6,352.6 572.8,352.8 573.0,352.9 573.4,353.3 573.8,354.1 574.3,355.1 574.8,356.3 575.4,357.7 576.1,359.1 576.8,360.6 577.5,361.9 578.2,363.1 578.8,364.2 579.5,365.2 580.1,366.3 580.7,367.3 581.4,368.4 582.1,369.6 582.9,370.8 583.7,372.3 584.7,373.8 585.6,375.4 586.6,377.0 587.7,378.6 588.8,380.1 589.9,381.7 591.2,383.2 592.4,384.5 593.7,385.8 594.9,386.9 595.9,387.9 596.9,388.9 597.8,389.8 598.6,390.8 599.4,391.9 600.2,393.1 601.0,394.4 601.7,395.8 602.5,397.2 603.2,398.7 603.9,400.3 604.6,401.9 605.3,403.5 605.9,405.2 606.5,407.1 607.1,409.1 607.7,411.2 608.4,413.2 609.1,415.1 610.0,416.9 611.0,418.5 612.0,419.9 613.1,421.1 614.2,422.2 615.3,423.2 616.3,424.1 617.3,424.8 618.3,425.5 619.2,426.1 620.1,426.6 620.9,426.9 621.7,427.1 622.4,427.2 623.0,427.3 623.6,427.3 624.2,427.5 624.8,426.5 624.3,426.0 623.8,425.5 623.4,425.1 623.0,424.7 622.6,424.2 622.3,423.7 622.0,423.2 621.7,422.5 621.4,421.6 621.0,420.6 620.6,419.5 620.3,418.3 619.9,417.0 619.5,415.8 619.2,414.4 618.8,413.1 618.4,411.7 618.0,410.1 617.5,408.3 617.0,406.3 616.4,404.3 615.8,402.2 615.2,400.1 614.6,398.1 613.9,396.3 613.3,394.6 612.7,392.8 612.1,391.1 611.4,389.4 610.6,387.6 609.8,385.9 608.9,384.2 607.8,382.5 606.7,380.9 605.6,379.4 604.5,378.0 603.4,376.7 602.4,375.6 601.5,374.4 600.7,373.3 599.7,372.1 598.7,370.7 597.6,369.3 596.6,367.9 595.5,366.5 594.5,365.1 593.4,363.7 592.5,362.4 591.6,361.3 590.7,360.2 590.0,359.3 589.3,358.4 588.6,357.7 588.1,356.9 587.6,356.2 587.2,355.4 586.9,354.6 586.7,353.7 586.5,352.6 586.2,351.4 586.0,350.0 585.6,348.5 585.0,346.9 584.2,345.2 583.2,343.9 582.3,342.7 581.2,341.7 580.1,340.8 578.9,340.1 577.8,339.5 576.8,339.0 575.6,338.4 574.1,337.9 572.5,337.5 571.2,337.2 569.9,337.0 568.8,336.8 567.8,336.6 567.0,336.4 566.2,336.2 565.2,335.8 564.0,335.3 562.9,334.8 561.8,334.3 560.6,333.7 559.4,333.0 558.2,332.3 557.0,331.6 555.8,330.8 554.6,329.9 553.3,328.8 551.9,327.8 550.5,326.6 549.0,325.4 547.6,324.2 546.1,322.9 544.6,321.7 543.2,320.5 541.7,319.3 540.3,317.9 538.7,316.6 537.1,315.1 535.3,313.6 533.5,311.9 531.6,310.1 529.4,308.1 527.1,306.0 524.8,303.8 522.6,301.7 520.4,299.7 518.5,298.0 516.8,296.5 515.4,295.4 514.2,294.4 513.2,293.7 512.3,293.2 511.5,292.7 510.8,292.3 510.0,291.8 509.1,291.2Z"/></g>
<g fill="#e12e2a"><path d="M304.6,192.8 304.1,193.0 303.8,193.2 303.4,193.4 302.9,193.6 302.3,193.9 301.6,194.1 300.8,194.3 299.8,194.6 298.6,194.8 297.2,195.1 295.7,195.4 294.0,195.7 292.3,196.0 290.5,196.3 288.8,196.6 287.2,196.8 285.7,197.0 284.3,197.2 282.9,197.3 281.6,197.5 280.1,197.6 278.5,197.7 276.7,197.9 274.5,198.1 272.0,198.3 269.2,198.5 266.1,198.7 262.8,199.0 259.5,199.2 256.1,199.5 252.7,199.7 249.5,199.9 246.3,200.2 242.9,200.4 239.6,200.6 236.3,200.8 233.0,201.1 230.0,201.3 227.1,201.4 224.5,201.6 222.4,201.6 220.6,201.6 218.9,201.6 217.2,201.5 215.4,201.5 213.4,201.6 211.3,201.7 208.9,202.1 206.5,202.6 204.0,203.2 201.5,203.9 199.0,204.6 196.4,205.5 193.8,206.3 191.1,207.2 188.4,208.0 185.5,208.9 182.4,209.9 179.2,210.9 175.9,211.9 172.7,213.0 169.4,214.0 166.2,215.1 163.2,216.1 160.2,217.1 157.2,218.0 154.3,219.0 151.3,219.9 148.4,220.9 145.5,222.0 142.8,223.1 140.1,224.2 137.6,225.5 135.2,226.7 132.9,228.0 130.8,229.3 128.7,230.7 126.7,232.1 124.7,233.5 122.8,235.0 120.9,236.7 119.0,238.4 117.2,240.2 115.5,241.9 113.9,243.7 112.3,245.5 110.8,247.2 109.3,249.0 107.8,250.8 106.3,252.7 104.8,254.6 103.3,256.5 101.9,258.4 100.6,260.2 99.4,261.9 98.3,263.4 97.5,264.6 96.8,265.6 96.1,266.6 95.4,267.7 94.8,268.8 94.2,270.1 93.5,271.5 92.8,273.2 92.0,275.3 91.0,277.8 90.0,280.5 89.0,283.4 88.0,286.4 87.0,289.3 86.1,292.2 85.3,295.0 84.6,297.6 84.0,300.1 83.5,302.6 83.1,305.0 82.6,307.3 82.3,309.6 81.9,311.8 81.6,313.9 81.2,316.0 81.0,318.0 80.7,320.0 80.5,321.8 80.3,323.7 80.1,325.6 79.9,327.4 79.7,329.4 79.5,331.6 79.3,333.8 79.1,336.1 78.9,338.4 78.7,340.8 78.5,343.1 78.4,345.5 78.3,347.7 78.2,349.9 78.2,352.1 78.2,354.2 78.2,356.4 78.2,358.6 78.2,360.8 78.2,363.1 78.3,365.4 78.4,367.8 78.4,370.2 78.5,372.7 78.6,375.2 78.8,377.8 78.9,380.3 79.1,382.8 79.4,385.2 79.7,387.5 80.0,389.8 80.4,392.1 80.8,394.3 81.2,396.6 81.7,398.8 82.2,401.0 82.8,403.2 83.4,405.4 84.1,407.6 84.8,409.8 85.5,412.1 86.4,414.3 87.2,416.5 88.1,418.6 89.1,420.6 90.1,422.4 91.1,424.1 92.1,425.7 93.2,427.1 94.3,428.5 95.4,429.7 96.6,431.0 97.8,432.4 99.3,434.0 100.9,435.7 102.6,437.5 104.4,439.5 106.4,441.4 108.4,443.3 110.5,445.1 112.6,446.8 114.7,448.3 116.9,449.6 119.0,450.9 121.2,452.1 123.5,453.2 125.7,454.3 128.0,455.2 130.3,456.2 132.6,457.0 134.9,457.8 137.1,458.5 139.3,459.1 141.5,459.7 143.8,460.2 146.1,460.6 148.6,461.1 151.5,461.5 154.7,461.9 158.0,462.2 161.3,462.5 164.7,462.8 167.9,463.1 170.9,463.3 173.6,463.6 175.9,464.0 177.9,464.3 179.7,464.6 181.4,465.0 183.1,465.3 185.0,465.6 187.0,465.9 189.4,466.1 192.2,466.2 195.4,466.3 198.7,466.3 202.2,466.4 205.7,466.4 209.1,466.3 212.2,466.3 214.9,466.2 217.2,466.1 219.2,466.0 221.0,465.9 222.7,465.8 224.2,465.6 225.7,465.4 227.1,465.2 228.8,464.9 230.6,464.6 232.4,464.2 234.2,463.8 236.0,463.3 237.8,462.9 239.6,462.4 241.3,462.0 243.0,461.6 241.0,452.4 239.2,452.8 237.4,453.2 235.6,453.5 233.9,453.9 232.1,454.3 230.5,454.6 228.8,454.9 227.2,455.1 225.7,455.3 224.3,455.5 223.0,455.7 221.7,455.8 220.4,455.9 218.9,455.9 217.2,455.9 215.1,455.8 212.6,455.6 209.7,455.3 206.4,454.9 203.1,454.4 199.7,453.9 196.4,453.5 193.3,453.1 190.6,452.7 188.3,452.5 186.4,452.4 184.7,452.3 183.0,452.2 181.4,452.1 179.7,451.9 177.7,451.7 175.4,451.4 172.7,450.9 169.7,450.3 166.6,449.7 163.3,449.0 160.1,448.3 157.0,447.7 154.0,447.0 151.4,446.4 148.9,445.9 146.6,445.5 144.5,445.1 142.6,444.8 140.8,444.4 139.1,444.0 137.4,443.5 135.7,442.8 133.9,442.0 132.2,441.1 130.5,440.1 128.8,439.1 127.2,437.9 125.5,436.7 123.9,435.5 122.4,434.2 120.9,432.9 119.3,431.5 117.7,429.9 116.0,428.2 114.4,426.5 112.9,424.8 111.5,423.1 110.2,421.6 109.0,420.2 108.1,419.1 107.4,418.1 106.8,417.2 106.3,416.4 105.9,415.6 105.4,414.6 104.9,413.4 104.4,412.0 103.9,410.4 103.4,408.7 103.0,406.8 102.5,404.8 102.0,402.8 101.6,400.8 101.2,398.8 100.8,396.9 100.4,394.9 100.1,393.0 99.8,391.0 99.5,389.0 99.2,387.0 98.9,384.9 98.6,382.8 98.3,380.6 98.1,378.4 97.8,376.1 97.5,373.8 97.2,371.4 97.0,369.1 96.8,366.8 96.7,364.6 96.6,362.5 96.5,360.5 96.5,358.5 96.5,356.5 96.6,354.5 96.6,352.4 96.7,350.4 96.7,348.3 96.7,346.1 96.8,343.9 96.8,341.6 96.8,339.3 96.9,337.1 96.9,334.8 97.0,332.7 97.1,330.6 97.1,328.6 97.2,326.7 97.3,324.9 97.3,323.2 97.4,321.5 97.5,319.8 97.6,318.0 97.8,316.1 98.1,314.1 98.3,312.0 98.6,309.9 98.9,307.7 99.3,305.6 99.7,303.4 100.2,301.3 100.7,299.0 101.3,296.6 102.1,294.0 102.9,291.2 103.8,288.4 104.8,285.7 105.6,283.1 106.5,280.8 107.2,278.8 107.7,277.3 108.2,276.2 108.4,275.5 108.6,275.0 108.9,274.6 109.2,274.0 109.8,273.0 110.7,271.8 111.6,270.4 112.7,268.8 113.9,267.2 115.2,265.5 116.6,263.7 117.9,261.9 119.3,260.2 120.7,258.5 122.1,256.9 123.5,255.2 124.9,253.5 126.4,251.9 127.8,250.3 129.2,248.8 130.7,247.4 132.2,246.0 133.8,244.6 135.3,243.2 136.9,241.9 138.6,240.6 140.2,239.4 142.0,238.1 143.9,236.9 145.9,235.8 148.1,234.6 150.4,233.5 152.9,232.3 155.5,231.2 158.2,230.1 161.1,229.0 163.9,227.9 166.8,226.9 169.8,225.9 172.9,224.9 176.1,223.9 179.3,222.9 182.5,222.0 185.7,221.1 188.7,220.2 191.6,219.5 194.4,218.8 197.1,218.1 199.7,217.5 202.2,216.9 204.6,216.4 206.9,216.0 209.1,215.6 211.1,215.3 212.8,215.1 214.3,215.0 215.7,214.9 217.2,214.9 218.8,214.8 220.8,214.8 223.0,214.6 225.5,214.4 228.2,214.1 231.1,213.8 234.3,213.4 237.5,212.9 240.8,212.5 244.1,212.1 247.4,211.6 250.5,211.3 253.7,210.9 257.0,210.6 260.4,210.3 263.7,210.0 267.0,209.7 270.1,209.4 272.9,209.1 275.5,208.9 277.6,208.7 279.5,208.6 281.1,208.4 282.5,208.3 283.8,208.2 285.1,208.2 286.4,208.2 287.8,208.2 289.4,208.2 291.1,208.4 292.8,208.5 294.5,208.7 296.1,208.9 297.7,209.1 299.0,209.3 300.2,209.4 301.1,209.6 301.8,209.9 302.2,210.1 302.6,210.3 303.0,210.5 303.4,210.7 303.9,211.0 304.4,211.2Z"/>
<path d="M234.5,462.4 236.1,461.2 237.7,460.1 239.4,458.9 241.1,457.7 242.8,456.5 244.5,455.3 246.1,454.0 247.7,452.7 249.2,451.4 250.6,450.2 252.1,448.9 253.4,447.6 254.8,446.3 256.0,445.0 257.3,443.6 258.5,442.1 259.8,440.4 260.8,438.7 261.7,437.1 262.5,435.6 263.3,434.2 264.0,433.1 264.6,432.1 265.3,431.3 266.2,430.5 267.3,429.6 268.5,428.7 269.7,427.9 271.0,427.1 272.4,426.3 273.8,425.6 275.2,424.9 276.4,424.4 277.7,424.0 279.3,423.7 281.0,423.3 282.9,422.9 284.8,422.5 286.9,421.8 288.9,420.9 290.9,419.7 292.7,418.5 294.5,417.1 296.3,415.7 297.9,414.3 299.5,412.9 301.0,411.5 302.5,410.2 303.9,408.9 305.3,407.4 306.7,405.9 307.9,404.5 309.1,403.2 310.2,401.9 311.3,400.8 312.3,399.9 313.2,399.1 314.0,398.5 314.8,397.9 315.8,397.3 316.9,396.8 318.2,396.2 319.6,395.5 321.3,394.7 323.2,393.7 325.3,392.7 327.6,391.5 330.1,390.4 332.6,389.2 335.1,388.0 337.6,386.8 340.1,385.7 339.9,385.5 337.5,386.5 335.0,387.6 332.4,388.7 329.8,389.8 327.3,390.9 325.0,391.8 322.7,392.7 320.7,393.3 319.0,393.8 317.5,394.0 316.2,394.1 315.0,394.1 313.7,394.1 312.4,394.3 310.9,394.7 309.3,395.3 307.7,396.2 306.2,397.3 304.7,398.5 303.2,399.7 301.7,401.0 300.3,402.3 298.9,403.5 297.5,404.8 296.0,406.1 294.5,407.6 293.0,409.1 291.6,410.6 290.2,412.0 288.8,413.3 287.4,414.4 286.1,415.1 284.8,415.6 283.4,415.9 281.8,416.1 280.2,416.1 278.4,416.1 276.4,416.2 274.4,416.5 272.3,417.1 270.5,417.7 268.7,418.4 266.9,419.2 265.2,420.1 263.5,421.0 261.8,422.1 260.2,423.3 258.7,424.7 257.2,426.3 256.0,428.1 255.1,429.8 254.3,431.4 253.6,433.0 252.9,434.3 252.2,435.6 251.5,436.7 250.5,437.9 249.5,439.1 248.4,440.3 247.3,441.5 246.1,442.7 244.9,443.9 243.6,445.1 242.3,446.3 240.9,447.4 239.4,448.6 237.9,449.7 236.3,450.9 234.6,452.0 232.9,453.2 231.2,454.4 229.5,455.6Z"/>
<path d="M228.6,464.7 230.5,464.2 232.3,463.6 234.2,463.1 236.1,462.6 238.0,462.1 239.9,461.6 241.7,461.1 243.4,460.7 245.1,460.2 246.7,459.7 248.3,459.2 249.8,458.8 251.3,458.3 252.7,457.9 254.0,457.5 255.4,457.2 256.6,456.9 257.7,456.6 258.7,456.4 259.7,456.2 260.8,456.0 262.1,455.8 263.5,455.5 265.2,455.2 267.3,454.9 269.6,454.5 272.2,454.2 274.9,453.8 277.6,453.4 280.4,452.9 282.9,452.5 285.3,452.0 287.5,451.5 289.6,451.0 291.6,450.5 293.5,450.0 295.4,449.4 297.2,448.9 298.9,448.3 300.5,447.8 302.0,447.2 303.3,446.7 304.5,446.2 305.6,445.7 306.7,445.2 307.9,444.6 309.2,444.0 310.6,443.3 312.3,442.5 314.1,441.6 316.1,440.6 318.1,439.6 320.1,438.5 322.0,437.5 323.9,436.5 325.6,435.6 327.0,434.7 328.2,434.0 329.3,433.3 330.3,432.6 331.4,431.8 332.7,431.0 334.2,430.0 336.2,428.9 338.6,427.5 341.4,426.0 344.4,424.3 347.7,422.6 351.0,420.8 354.4,418.9 357.7,417.1 360.9,415.4 360.7,415.2 357.5,416.9 354.2,418.6 350.8,420.4 347.4,422.1 344.2,423.8 341.1,425.4 338.3,426.9 335.8,428.1 333.7,429.1 332.1,429.9 330.7,430.6 329.5,431.1 328.4,431.6 327.2,432.2 325.9,432.7 324.4,433.4 322.7,434.3 320.8,435.2 318.8,436.1 316.8,437.1 314.8,438.1 312.9,439.0 311.0,439.9 309.4,440.7 307.9,441.4 306.6,442.0 305.5,442.6 304.4,443.1 303.3,443.6 302.2,444.0 301.0,444.5 299.5,445.0 297.9,445.6 296.3,446.1 294.5,446.6 292.7,447.2 290.8,447.7 288.9,448.2 286.8,448.7 284.7,449.2 282.4,449.6 279.9,450.1 277.2,450.5 274.5,450.9 271.8,451.3 269.2,451.7 266.8,452.1 264.8,452.4 263.1,452.6 261.6,452.8 260.4,453.0 259.3,453.1 258.2,453.3 257.1,453.4 256.0,453.6 254.6,453.8 253.2,454.1 251.8,454.4 250.3,454.8 248.8,455.1 247.3,455.5 245.8,455.8 244.2,456.1 242.6,456.3 240.8,456.5 239.0,456.7 237.2,456.8 235.2,456.9 233.3,457.0 231.3,457.1 229.3,457.2 227.4,457.3Z"/>
<path d="M92.0,342.7 93.6,342.5 95.2,342.3 96.7,342.1 98.3,341.9 99.9,341.7 101.5,341.6 103.2,341.4 105.0,341.2 106.9,341.0 108.8,340.8 110.7,340.6 112.7,340.3 114.7,340.2 116.7,340.0 118.8,339.9 120.9,339.9 123.1,340.0 125.4,340.2 127.7,340.4 130.1,340.7 132.4,341.0 134.8,341.3 137.2,341.7 139.6,342.2 142.0,342.6 144.4,343.2 147.0,343.8 149.6,344.5 152.2,345.2 154.7,345.9 157.2,346.5 159.7,347.1 161.9,347.7 164.1,348.2 166.3,348.7 168.3,349.2 170.4,349.7 172.5,350.2 174.6,350.8 176.9,351.4 179.2,352.1 181.5,352.8 183.9,353.6 186.3,354.4 188.7,355.2 191.1,356.0 193.6,356.8 196.0,357.6 196.0,357.4 193.7,356.5 191.3,355.7 188.9,354.8 186.5,353.9 184.1,353.1 181.7,352.2 179.4,351.4 177.1,350.6 175.0,349.8 172.9,349.1 170.8,348.4 168.8,347.7 166.7,347.0 164.7,346.3 162.6,345.6 160.3,344.9 158.0,344.0 155.6,343.1 153.2,342.1 150.7,341.1 148.1,340.2 145.6,339.3 143.0,338.5 140.4,337.8 137.9,337.4 135.4,337.0 132.9,336.8 130.4,336.6 128.0,336.4 125.6,336.3 123.3,336.2 121.1,336.1 118.9,335.9 116.7,335.7 114.6,335.6 112.6,335.4 110.6,335.3 108.7,335.1 106.8,335.0 105.0,334.8 103.2,334.6 101.5,334.4 99.9,334.3 98.3,334.1 96.7,333.9 95.2,333.7 93.6,333.5 92.0,333.3Z"/>
<path d="M208.1,208.6 208.8,207.6 209.4,206.6 210.1,205.5 210.8,204.4 211.5,203.4 212.1,202.2 212.8,201.1 213.4,199.9 214.0,198.6 214.6,197.4 215.1,196.1 215.5,194.8 216.0,193.5 216.5,192.3 217.1,191.1 217.7,189.9 218.3,188.9 219.1,187.8 219.9,186.8 220.7,185.7 221.6,184.7 222.5,183.7 223.3,182.7 224.1,181.6 223.9,181.4 222.9,182.3 222.0,183.2 221.0,184.2 220.0,185.1 219.1,186.0 218.1,187.0 217.2,188.0 216.3,189.1 215.5,190.2 214.7,191.3 214.0,192.5 213.3,193.7 212.6,194.9 212.0,196.0 211.3,197.1 210.6,198.1 209.8,199.0 209.0,200.0 208.2,200.9 207.3,201.7 206.5,202.6 205.6,203.5 204.7,204.4 203.9,205.4Z"/>
<path d="M408.6,200.0 409.6,199.6 410.6,199.1 411.4,198.8 411.9,198.6 412.3,198.6 412.7,198.6 413.2,198.6 414.0,198.4 415.1,198.1 416.6,197.6 418.2,197.2 420.1,196.7 422.0,196.1 424.0,195.6 426.1,195.1 428.2,194.6 430.3,194.1 432.6,193.6 434.8,193.1 437.1,192.7 439.5,192.2 441.7,191.8 444.0,191.5 446.2,191.1 448.5,190.8 450.7,190.4 452.9,190.1 455.1,189.8 457.2,189.6 459.4,189.4 461.4,189.3 463.5,189.3 465.5,189.4 467.5,189.5 469.6,189.8 471.7,190.1 473.8,190.5 476.1,190.9 478.4,191.5 480.8,192.0 483.3,192.7 485.8,193.5 488.4,194.4 491.1,195.3 493.9,196.3 496.8,197.3 499.8,198.2 502.9,199.0 506.1,199.7 509.5,200.3 512.9,200.9 516.4,201.4 519.8,201.9 523.0,202.3 525.9,202.8 528.4,203.1 530.2,203.5 531.6,203.7 532.7,204.0 533.6,204.1 534.5,204.3 535.6,204.5 536.9,204.7 538.7,204.9 541.2,205.1 544.0,205.3 547.1,205.6 550.5,205.8 553.9,206.1 557.3,206.3 560.7,206.6 563.9,206.9 567.1,207.2 570.2,207.5 573.3,207.9 576.5,208.2 579.6,208.6 582.8,209.0 585.9,209.4 589.0,209.9 592.3,210.4 595.6,211.0 598.9,211.7 602.1,212.4 605.3,213.0 608.3,213.7 611.1,214.3 613.7,214.9 616.2,215.5 618.4,215.9 620.2,216.3 621.8,216.7 623.2,217.0 624.3,217.4 625.4,217.8 626.5,218.4 627.7,219.1 628.9,219.9 630.1,220.9 631.4,221.9 632.7,223.1 634.1,224.4 635.4,225.7 636.8,227.1 638.2,228.6 639.5,230.2 640.9,231.9 642.4,233.8 643.9,235.7 645.4,237.7 646.9,239.6 648.4,241.4 649.9,243.0 651.3,244.6 652.8,246.0 654.2,247.4 655.5,248.8 656.8,250.1 657.9,251.4 659.0,252.8 660.0,254.1 660.8,255.5 661.7,256.8 662.4,258.3 663.3,259.8 664.1,261.4 665.1,263.1 666.1,264.8 667.3,266.6 668.6,268.4 669.8,270.2 671.1,272.1 672.4,273.9 673.6,275.6 674.7,277.2 675.7,278.7 676.6,280.0 677.4,281.2 678.0,282.3 678.7,283.4 679.3,284.4 679.9,285.5 680.6,286.7 681.3,288.1 682.1,289.6 682.8,291.2 683.7,292.9 684.5,294.8 685.4,296.6 686.2,298.4 687.1,300.2 688.0,301.9 688.8,303.5 689.7,305.0 690.6,306.5 691.4,307.9 692.3,309.4 693.2,310.8 694.1,312.2 695.0,313.7 695.9,315.2 696.8,316.7 697.7,318.2 698.7,319.7 699.6,321.1 700.4,322.5 701.1,323.8 701.8,324.9 702.3,325.9 702.8,326.7 703.1,327.5 703.5,328.3 703.8,329.1 704.3,330.1 704.8,331.2 705.4,332.4 706.0,333.6 706.6,335.0 707.3,336.6 708.1,338.4 709.0,340.2 710.0,342.1 711.2,344.0 712.6,345.9 714.2,347.7 715.9,349.4 717.7,351.1 719.5,352.7 721.3,354.2 722.9,355.6 724.4,357.0 725.7,358.3 727.0,359.7 728.2,361.0 729.3,362.2 730.3,363.4 731.2,364.5 732.0,365.6 732.6,366.7 733.2,367.8 733.7,369.2 734.1,370.6 734.5,372.1 734.7,373.6 734.9,375.2 735.1,376.8 735.1,378.4 735.1,379.8 734.9,381.2 734.6,382.6 734.2,384.1 733.8,385.6 733.2,387.2 732.7,388.9 732.1,390.6 731.6,392.4 731.2,394.0 730.8,395.5 730.4,397.1 730.0,398.7 729.6,400.2 729.2,401.8 728.8,403.3 728.4,404.8 728.1,406.0 727.8,407.1 727.5,408.2 727.1,409.4 726.8,410.8 726.6,412.2 726.5,413.8 726.6,415.5 726.9,417.5 727.5,419.3 728.1,420.9 728.8,422.2 729.3,423.4 729.7,424.5 730.0,425.4 730.1,426.2 730.0,427.2 729.8,428.5 729.5,429.9 729.1,431.4 728.6,432.9 728.1,434.5 727.5,436.0 726.9,437.5 726.4,438.9 725.7,440.2 725.0,441.6 724.2,443.1 723.3,444.6 722.5,446.1 721.7,447.7 720.9,449.4 720.3,450.9 719.7,452.5 719.1,454.1 718.6,455.6 718.1,457.2 717.6,458.7 717.2,460.3 716.9,461.8 716.7,463.2 716.6,464.6 716.6,466.0 716.6,467.3 716.7,468.5 716.7,469.7 716.8,470.8 716.8,472.0 716.7,473.1 716.6,474.1 716.6,475.1 716.5,476.1 716.5,477.1 716.4,478.0 716.4,479.0 716.4,480.0 716.6,480.0 716.7,479.0 716.7,478.0 716.8,477.1 716.8,476.1 716.9,475.1 716.9,474.1 717.0,473.1 717.2,472.0 717.5,470.9 717.9,469.9 718.3,468.8 718.8,467.7 719.3,466.6 719.8,465.5 720.4,464.4 721.1,463.2 721.8,462.1 722.5,460.9 723.4,459.7 724.2,458.4 725.1,457.1 726.0,455.8 727.0,454.5 727.9,453.1 728.7,451.9 729.7,450.6 730.7,449.2 731.7,447.8 732.7,446.3 733.7,444.7 734.7,443.0 735.6,441.3 736.3,439.6 737.0,437.9 737.7,436.1 738.4,434.2 738.9,432.3 739.4,430.4 739.7,428.4 739.9,426.3 739.9,424.1 739.5,422.0 739.1,420.1 738.5,418.5 738.1,417.1 737.7,415.9 737.5,415.1 737.4,414.5 737.4,413.8 737.4,413.1 737.5,412.5 737.6,411.7 737.7,410.8 738.0,409.8 738.2,408.5 738.6,407.2 738.9,405.9 739.3,404.6 739.7,403.2 740.2,401.7 740.7,400.1 741.2,398.5 741.7,396.8 742.2,395.1 742.6,393.6 743.0,391.9 743.4,390.2 743.9,388.3 744.3,386.4 744.6,384.4 744.9,382.3 744.9,380.2 744.9,378.1 744.7,376.1 744.5,374.0 744.2,372.0 743.7,370.0 743.2,368.0 742.6,366.1 741.8,364.2 741.0,362.3 740.0,360.6 738.9,359.0 737.8,357.5 736.7,356.0 735.5,354.6 734.3,353.2 733.1,351.7 731.6,350.0 730.0,348.3 728.3,346.6 726.6,345.0 725.0,343.4 723.6,341.9 722.3,340.5 721.2,339.1 720.3,337.8 719.4,336.5 718.5,335.0 717.7,333.5 716.9,332.0 716.1,330.5 715.4,329.0 714.6,327.6 714.0,326.5 713.6,325.6 713.2,324.9 712.9,324.1 712.5,323.3 712.1,322.3 711.6,321.3 711.0,320.1 710.3,318.7 709.6,317.3 708.8,315.9 708.0,314.4 707.2,312.8 706.5,311.3 705.7,309.8 705.0,308.3 704.4,306.9 703.8,305.4 703.2,303.9 702.6,302.4 702.0,300.9 701.4,299.3 700.7,297.7 700.0,296.1 699.3,294.4 698.5,292.6 697.6,290.8 696.7,289.0 695.8,287.1 694.9,285.3 694.0,283.6 693.2,281.9 692.4,280.4 691.7,279.1 691.1,277.8 690.4,276.6 689.7,275.4 689.0,274.2 688.2,272.8 687.3,271.3 686.3,269.7 685.2,267.9 684.0,266.1 682.8,264.2 681.6,262.3 680.4,260.5 679.3,258.8 678.4,257.2 677.5,255.7 676.6,254.3 675.7,252.8 674.9,251.3 674.0,249.8 673.0,248.2 672.0,246.5 671.0,244.7 669.9,243.0 668.8,241.2 667.8,239.4 666.7,237.7 665.6,235.9 664.5,234.1 663.3,232.4 662.1,230.6 660.8,228.8 659.4,226.9 657.9,224.9 656.3,222.9 654.6,220.8 652.8,218.7 651.0,216.7 649.2,214.9 647.4,213.2 645.6,211.6 643.8,210.1 641.9,208.6 640.0,207.2 637.9,205.9 635.8,204.7 633.5,203.6 631.2,202.7 628.9,202.0 626.8,201.5 624.7,201.2 622.7,200.9 620.6,200.7 618.6,200.5 616.3,200.3 613.6,199.9 610.6,199.6 607.4,199.4 604.1,199.1 600.8,198.8 597.4,198.4 594.1,198.1 591.0,197.6 587.8,197.1 584.7,196.6 581.6,196.0 578.5,195.3 575.4,194.6 572.3,194.0 569.2,193.3 566.1,192.7 562.8,192.0 559.5,191.3 556.0,190.6 552.7,189.9 549.4,189.3 546.4,188.7 543.6,188.1 541.3,187.6 539.4,187.3 538.0,187.1 537.1,187.0 536.4,186.9 535.7,186.8 534.8,186.7 533.5,186.4 531.6,186.1 529.3,185.5 526.5,184.8 523.4,184.0 520.1,183.2 516.8,182.3 513.4,181.5 510.1,180.7 507.1,180.0 504.3,179.5 501.4,178.9 498.5,178.4 495.6,177.9 492.7,177.4 489.8,176.9 486.9,176.4 484.2,176.0 481.5,175.5 479.0,175.1 476.6,174.7 474.1,174.3 471.7,174.0 469.2,173.7 466.6,173.5 464.0,173.3 461.4,173.2 458.8,173.2 456.2,173.3 453.7,173.4 451.1,173.6 448.7,173.8 446.2,174.1 443.8,174.4 441.3,174.8 438.7,175.2 436.2,175.7 433.7,176.3 431.2,176.9 428.8,177.5 426.5,178.1 424.3,178.6 422.1,179.2 419.9,179.8 417.7,180.3 415.6,180.9 413.5,181.5 411.6,182.2 409.8,182.9 408.0,183.6 406.4,184.5 405.0,185.4 403.8,186.5 402.9,187.4 402.3,188.3 402.0,188.9 401.8,189.4 401.4,190.0 399.9,191.5 399.0,193.5 398.8,195.6 399.4,197.7 400.7,199.5 402.5,200.7 404.6,201.2 406.7,201.0Z"/>
<path d="M623.8,213.1 625.7,213.4 627.6,213.7 629.4,213.9 631.2,214.2 633.1,214.5 634.9,214.8 636.7,215.1 638.7,215.5 640.7,216.0 642.7,216.5 644.8,217.0 647.0,217.6 649.2,218.2 651.4,218.8 653.6,219.5 655.8,220.2 658.1,220.9 660.4,221.6 662.8,222.4 665.2,223.2 667.5,224.0 669.9,224.8 672.1,225.7 674.3,226.6 676.5,227.5 678.6,228.4 680.7,229.4 682.7,230.3 684.6,231.3 686.5,232.3 688.3,233.3 689.9,234.2 691.5,235.2 692.9,236.1 694.2,237.0 695.4,237.9 696.6,238.9 697.9,239.9 699.1,241.0 700.4,242.1 701.8,243.4 703.3,244.8 704.7,246.3 706.2,247.8 707.6,249.3 709.0,250.9 710.3,252.3 711.4,253.7 712.4,254.9 713.3,256.1 714.2,257.4 715.0,258.6 715.8,259.8 716.6,261.1 717.4,262.5 718.3,263.8 719.1,265.1 719.9,266.4 720.7,267.6 721.5,268.9 722.3,270.2 723.1,271.5 723.9,272.8 724.7,274.1 725.5,275.4 726.3,276.8 727.1,278.2 727.9,279.7 728.8,281.2 729.8,282.7 730.8,284.3 732.0,285.8 733.3,287.2 734.6,288.6 736.0,290.0 737.4,291.4 738.9,292.8 740.5,294.1 742.1,295.4 743.8,296.7 745.5,298.0 747.4,299.3 749.3,300.5 751.3,301.7 753.2,302.9 755.1,304.1 756.9,305.2 758.5,306.3 760.1,307.5 761.7,308.7 763.3,309.8 764.7,311.0 766.2,312.1 767.5,313.2 768.8,314.4 770.0,315.5 771.1,316.7 772.1,317.8 773.1,319.0 774.0,320.3 774.9,321.5 775.7,322.8 776.4,324.0 777.1,325.2 777.6,326.3 778.0,327.4 778.3,328.5 778.5,329.6 778.7,330.7 778.9,331.8 779.1,332.9 779.4,334.0 779.6,334.0 779.4,332.9 779.3,331.8 779.1,330.7 779.0,329.6 778.8,328.4 778.6,327.3 778.3,326.1 777.9,324.8 777.5,323.5 777.0,322.1 776.5,320.7 775.9,319.2 775.2,317.8 774.4,316.3 773.5,314.8 772.5,313.3 771.4,311.9 770.2,310.5 768.9,309.1 767.5,307.8 766.1,306.4 764.6,305.1 763.1,303.8 761.5,302.5 759.8,301.1 758.0,299.8 756.2,298.5 754.3,297.2 752.4,295.9 750.7,294.6 749.0,293.3 747.4,292.1 746.0,290.8 744.5,289.5 743.1,288.2 741.7,286.9 740.4,285.6 739.2,284.3 738.1,283.0 737.0,281.7 736.0,280.5 735.1,279.2 734.3,277.9 733.4,276.5 732.6,275.1 731.9,273.7 731.1,272.3 730.3,270.9 729.5,269.5 728.8,268.2 728.1,266.9 727.4,265.6 726.8,264.2 726.1,262.9 725.4,261.5 724.7,260.2 724.1,258.8 723.4,257.5 722.8,256.1 722.2,254.6 721.4,253.1 720.6,251.6 719.6,250.0 718.6,248.3 717.3,246.7 716.0,245.0 714.6,243.2 713.1,241.5 711.6,239.8 710.1,238.1 708.6,236.5 707.1,235.1 705.6,233.7 704.3,232.5 702.9,231.3 701.4,230.1 700.0,229.0 698.4,227.9 696.8,226.9 695.1,225.8 693.2,224.7 691.2,223.6 689.1,222.5 687.0,221.5 684.8,220.4 682.6,219.4 680.4,218.4 678.2,217.4 675.9,216.4 673.6,215.4 671.2,214.4 668.8,213.5 666.3,212.5 663.9,211.6 661.5,210.7 659.2,209.8 656.9,209.0 654.6,208.3 652.3,207.6 650.0,206.9 647.8,206.2 645.6,205.6 643.5,205.0 641.3,204.5 639.3,203.9 637.3,203.4 635.3,203.0 633.4,202.5 631.6,202.1 629.8,201.7 628.0,201.3 626.2,200.9Z"/>
<path d="M675.6,268.1 676.6,269.3 677.5,270.4 678.4,271.6 679.4,272.7 680.3,273.8 681.2,275.0 682.2,276.2 683.2,277.4 684.2,278.7 685.2,280.0 686.2,281.4 687.3,282.9 688.4,284.4 689.5,285.9 690.7,287.4 691.9,288.8 693.1,290.2 694.2,291.6 695.4,293.0 696.7,294.3 697.9,295.7 699.2,297.0 700.5,298.3 701.9,299.5 703.3,300.7 704.8,301.8 706.3,302.9 707.8,303.9 709.3,304.9 710.8,305.8 712.2,306.7 713.6,307.7 715.0,308.6 716.3,309.4 717.6,310.2 718.9,311.0 720.1,311.8 721.5,312.6 722.8,313.5 724.3,314.5 725.9,315.6 727.5,316.9 729.2,318.2 731.0,319.5 732.9,320.9 734.8,322.3 736.7,323.7 738.6,325.0 740.5,326.2 742.4,327.5 744.4,328.6 746.3,329.8 748.2,330.9 750.1,332.1 752.0,333.2 753.8,334.4 755.6,335.5 757.5,336.7 759.2,337.8 761.0,338.9 762.7,340.1 764.3,341.2 765.9,342.4 767.5,343.7 769.0,345.1 770.6,346.7 772.1,348.3 773.7,349.9 775.1,351.6 776.6,353.2 778.0,354.8 779.3,356.4 780.5,357.8 781.7,359.3 782.8,360.8 783.9,362.2 785.0,363.6 786.0,365.0 787.0,366.4 788.0,367.6 788.9,368.9 789.8,370.0 790.7,371.1 791.5,372.2 792.3,373.2 793.0,374.2 793.7,375.2 794.3,376.1 794.9,377.0 795.3,377.8 795.7,378.5 796.0,379.3 796.3,379.9 796.7,380.6 797.0,381.3 797.4,382.1 797.6,381.9 797.3,381.2 796.9,380.5 796.6,379.8 796.3,379.1 795.9,378.4 795.6,377.6 795.1,376.8 794.7,375.9 794.2,374.9 793.7,373.8 793.2,372.7 792.6,371.5 792.0,370.3 791.4,369.0 790.7,367.7 790.0,366.4 789.3,364.9 788.5,363.5 787.7,361.9 786.9,360.3 786.0,358.7 785.0,357.0 783.9,355.3 782.7,353.6 781.5,352.0 780.1,350.3 778.6,348.5 777.1,346.8 775.5,345.1 773.9,343.4 772.2,341.8 770.5,340.3 768.8,338.8 767.0,337.5 765.2,336.3 763.4,335.1 761.6,334.0 759.8,332.9 758.0,331.8 756.2,330.6 754.3,329.5 752.5,328.3 750.6,327.1 748.7,325.9 746.8,324.7 745.0,323.5 743.2,322.3 741.4,321.0 739.7,319.7 738.0,318.2 736.3,316.7 734.6,315.2 732.9,313.7 731.3,312.2 729.7,310.8 728.2,309.5 726.8,308.3 725.5,307.2 724.2,306.2 723.0,305.2 721.9,304.2 720.7,303.3 719.6,302.4 718.4,301.3 717.1,300.2 715.8,299.1 714.4,298.0 713.1,296.9 711.8,295.8 710.6,294.7 709.3,293.6 708.1,292.5 706.9,291.4 705.6,290.2 704.4,289.1 703.1,288.0 701.8,286.8 700.6,285.6 699.3,284.4 698.1,283.2 697.0,282.0 695.8,280.7 694.6,279.3 693.5,278.0 692.3,276.6 691.1,275.2 690.0,273.9 688.8,272.6 687.7,271.4 686.6,270.2 685.5,269.1 684.5,268.1 683.5,267.0 682.4,266.0 681.4,264.9 680.4,263.9Z"/>
<path d="M478.3,186.3 478.8,187.6 479.2,188.8 479.6,190.0 480.1,191.2 480.6,192.5 481.1,193.9 481.7,195.3 482.5,196.9 483.4,198.7 484.5,200.6 485.7,202.6 486.9,204.5 488.0,206.5 489.1,208.3 490.1,209.9 490.8,211.4 491.5,212.7 492.1,214.1 492.7,215.3 493.2,216.5 493.7,217.7 494.1,219.0 494.5,220.3 494.9,221.8 495.3,223.3 495.7,224.9 496.1,226.3 496.3,227.7 496.5,228.9 496.7,230.1 496.7,231.0 496.6,231.8 496.5,232.6 496.2,233.5 495.9,234.4 495.4,235.3 494.9,236.3 494.3,237.3 493.6,238.4 492.9,239.4 492.3,240.2 491.5,241.1 490.4,242.1 489.1,243.3 487.7,244.7 486.1,246.3 484.4,248.0 482.9,249.9 481.7,251.5 480.4,253.0 479.2,254.6 477.9,256.5 476.6,258.6 475.5,261.0 474.7,263.8 474.3,266.9 474.4,269.9 474.8,272.7 475.6,275.2 476.5,277.5 477.5,279.7 478.6,281.7 479.7,283.6 480.9,285.6 482.4,287.9 484.1,290.1 485.8,292.1 487.5,294.0 489.0,295.8 490.4,297.4 491.5,298.8 492.4,300.1 493.2,301.5 494.0,303.0 494.8,304.7 495.5,306.4 496.3,308.2 496.9,310.1 497.6,312.0 498.3,314.0 498.9,315.9 499.4,317.7 499.8,319.4 500.2,321.0 500.5,322.6 500.8,324.2 501.1,325.8 501.4,327.5 501.7,329.4 502.1,331.4 502.4,333.7 502.7,336.0 503.0,338.4 503.3,340.8 503.6,343.1 503.8,345.4 504.0,347.4 504.2,349.4 504.3,351.4 504.4,353.2 504.5,355.1 504.6,356.8 504.6,358.5 504.7,360.0 504.7,361.1 504.6,362.0 504.5,362.8 504.5,363.7 504.4,364.8 504.3,366.0 504.3,367.4 504.3,369.0 504.4,370.8 504.5,372.7 504.6,374.7 504.8,376.9 505.0,379.1 505.2,381.4 505.5,383.8 505.9,386.1 506.3,388.4 506.7,390.8 507.2,393.2 507.7,395.6 508.3,398.0 508.9,400.4 509.6,402.8 510.3,405.0 511.1,407.1 512.0,409.2 512.9,411.1 513.8,412.9 514.7,414.6 515.7,416.3 516.7,417.9 517.6,419.6 518.6,421.2 519.6,422.8 520.7,424.4 521.7,425.9 522.7,427.4 523.8,428.9 524.9,430.4 526.0,431.9 527.2,433.5 528.4,435.2 529.6,436.8 530.9,438.5 532.2,440.1 533.5,441.8 534.7,443.4 535.9,444.9 537.0,446.4 538.1,448.0 539.2,449.5 540.2,451.1 541.3,452.6 542.4,454.1 543.5,455.5 544.7,456.9 545.9,458.1 547.2,459.4 548.4,460.5 549.7,461.6 550.9,462.6 552.0,463.5 553.1,464.4 554.1,465.1 554.9,465.7 555.4,466.0 555.8,466.3 556.3,466.5 556.9,466.9 557.7,467.4 558.9,468.1 560.6,469.3 562.8,470.9 565.5,472.9 568.6,475.1 571.9,477.6 575.4,480.1 578.9,482.7 582.3,485.2 585.5,487.6 585.7,487.4 582.5,484.9 579.1,482.3 575.7,479.6 572.3,477.0 569.1,474.4 566.1,472.1 563.5,470.0 561.4,468.2 559.9,466.8 559.0,465.9 558.4,465.2 558.2,464.7 558.0,464.3 557.9,463.9 557.5,463.2 556.9,462.4 556.0,461.4 555.1,460.3 554.2,459.2 553.2,458.0 552.2,456.9 551.2,455.6 550.2,454.4 549.3,453.1 548.4,451.8 547.4,450.5 546.5,449.0 545.5,447.5 544.6,446.0 543.6,444.4 542.6,442.8 541.6,441.1 540.6,439.4 539.6,437.7 538.7,435.9 537.7,434.1 536.7,432.3 535.8,430.5 534.9,428.8 534.0,427.1 533.2,425.4 532.4,423.8 531.6,422.2 530.9,420.6 530.2,419.1 529.6,417.6 529.0,416.0 528.4,414.4 527.8,412.8 527.2,411.1 526.7,409.5 526.3,407.8 525.8,406.2 525.4,404.5 525.0,402.8 524.7,401.0 524.3,399.1 523.9,397.0 523.6,394.9 523.3,392.7 522.9,390.4 522.6,388.2 522.4,386.0 522.1,383.9 521.9,381.9 521.8,379.8 521.6,377.8 521.5,375.7 521.4,373.7 521.3,371.8 521.2,370.0 521.2,368.5 521.2,367.2 521.2,366.4 521.2,365.6 521.2,364.9 521.2,364.0 521.3,362.9 521.3,361.6 521.3,360.0 521.4,358.4 521.4,356.8 521.5,354.9 521.5,353.0 521.6,351.0 521.6,349.0 521.7,346.8 521.7,344.6 521.7,342.4 521.8,340.1 521.9,337.6 522.0,335.0 522.0,332.4 522.0,329.7 521.9,327.0 521.6,324.5 521.2,322.1 520.7,319.8 520.1,317.6 519.4,315.6 518.7,313.6 518.1,311.7 517.4,309.9 516.7,308.0 516.1,306.0 515.5,304.0 514.8,301.9 514.1,299.6 513.3,297.3 512.4,294.9 511.4,292.4 510.1,289.9 508.6,287.3 506.9,284.9 505.2,282.7 503.6,280.6 502.1,278.7 500.9,277.1 499.9,275.7 499.1,274.4 498.4,273.0 497.6,271.5 496.9,270.2 496.4,269.1 496.1,268.2 495.9,267.6 495.8,267.3 495.7,267.1 495.6,267.1 495.4,266.8 495.4,266.1 495.5,265.2 495.8,264.1 496.3,262.8 496.9,261.4 497.6,260.1 498.1,259.2 498.9,258.3 499.9,257.2 501.2,256.0 502.6,254.6 504.1,253.1 505.7,251.3 507.1,249.4 508.2,247.6 509.2,246.0 510.1,244.2 510.9,242.4 511.7,240.5 512.4,238.5 512.9,236.4 513.4,234.2 513.6,231.9 513.7,229.7 513.6,227.5 513.4,225.4 513.2,223.5 513.0,221.6 512.7,219.9 512.5,218.2 512.2,216.6 512.0,214.8 511.7,213.1 511.3,211.3 510.9,209.5 510.4,207.6 509.9,205.7 509.2,203.6 508.3,201.4 507.4,199.1 506.3,196.9 505.3,194.7 504.2,192.5 503.2,190.5 502.3,188.7 501.5,187.1 500.7,185.7 500.0,184.4 499.3,183.2 498.5,182.1 497.8,181.0 497.1,179.9 496.4,178.8 495.7,177.7Z"/>
<path d="M501.3,300.3 502.0,301.1 502.7,301.9 503.2,302.5 503.8,303.2 504.5,304.0 505.3,304.8 506.3,305.8 507.6,307.0 509.3,308.5 511.3,310.2 513.5,312.1 515.9,314.0 518.3,316.0 520.7,318.0 522.9,319.9 524.9,321.6 526.6,323.2 528.3,324.7 529.8,326.2 531.3,327.6 532.8,329.1 534.3,330.5 535.8,331.9 537.3,333.2 538.8,334.5 540.4,335.8 541.9,337.1 543.4,338.3 545.0,339.5 546.5,340.7 548.1,341.8 549.7,342.9 551.2,343.9 552.8,344.8 554.3,345.6 555.8,346.4 557.3,347.1 558.7,347.7 560.1,348.3 561.6,348.9 563.2,349.4 564.9,349.8 566.3,350.1 567.6,350.4 568.7,350.5 569.6,350.7 570.2,350.8 570.7,351.0 571.2,351.2 571.8,351.5 572.2,351.7 572.5,351.8 572.7,352.0 572.9,352.1 573.1,352.2 573.3,352.4 573.6,352.6 573.9,353.1 574.4,353.9 574.9,354.9 575.4,356.1 576.0,357.5 576.6,358.9 577.3,360.3 578.1,361.6 578.7,362.7 579.3,363.8 580.0,364.9 580.6,365.9 581.2,367.0 581.9,368.1 582.6,369.2 583.4,370.5 584.2,371.9 585.2,373.5 586.1,375.0 587.1,376.6 588.2,378.2 589.3,379.8 590.4,381.3 591.6,382.8 592.9,384.1 594.1,385.4 595.3,386.5 596.4,387.5 597.4,388.5 598.3,389.5 599.1,390.5 599.9,391.6 600.7,392.9 601.5,394.2 602.3,395.5 603.0,397.0 603.8,398.5 604.5,400.1 605.2,401.6 605.9,403.3 606.5,405.1 607.0,407.0 607.6,409.0 608.3,411.0 608.9,413.0 609.7,414.9 610.5,416.6 611.5,418.2 612.5,419.6 613.6,420.8 614.7,421.9 615.8,422.9 616.8,423.7 617.8,424.4 618.7,425.1 619.6,425.7 620.4,426.1 621.2,426.4 621.9,426.6 622.6,426.7 623.2,426.8 623.8,426.9 624.4,427.1 624.6,426.9 624.1,426.4 623.6,426.0 623.1,425.5 622.7,425.1 622.3,424.7 622.0,424.2 621.6,423.6 621.3,422.9 620.9,422.0 620.5,420.9 620.1,419.8 619.8,418.6 619.4,417.4 619.0,416.1 618.6,414.7 618.3,413.4 617.9,411.9 617.4,410.3 616.9,408.4 616.4,406.5 615.8,404.4 615.3,402.4 614.6,400.3 614.0,398.4 613.4,396.5 612.8,394.8 612.2,393.1 611.5,391.3 610.9,389.6 610.1,387.9 609.3,386.2 608.4,384.5 607.3,382.8 606.2,381.2 605.1,379.8 604.0,378.4 603.0,377.1 602.0,376.0 601.1,374.8 600.2,373.7 599.3,372.4 598.2,371.1 597.2,369.7 596.1,368.2 595.0,366.8 594.0,365.4 592.9,364.1 592.0,362.8 591.1,361.6 590.3,360.6 589.5,359.6 588.8,358.8 588.1,358.0 587.6,357.2 587.1,356.5 586.7,355.7 586.3,354.9 586.1,353.9 585.9,352.8 585.7,351.6 585.4,350.2 585.0,348.7 584.5,347.1 583.7,345.6 582.8,344.3 581.8,343.1 580.8,342.2 579.7,341.3 578.6,340.6 577.5,340.0 576.5,339.5 575.3,339.0 573.9,338.5 572.4,338.1 571.0,337.8 569.8,337.6 568.7,337.4 567.7,337.2 566.9,337.0 566.0,336.7 565.0,336.3 563.8,335.9 562.7,335.3 561.5,334.8 560.3,334.2 559.1,333.6 557.9,332.9 556.7,332.1 555.5,331.3 554.2,330.3 552.9,329.3 551.5,328.2 550.1,327.1 548.7,325.9 547.2,324.6 545.7,323.4 544.2,322.2 542.8,321.0 541.3,319.7 539.8,318.4 538.3,317.0 536.7,315.6 534.9,314.0 533.1,312.4 531.2,310.6 529.0,308.6 526.8,306.5 524.5,304.3 522.2,302.2 520.1,300.2 518.1,298.4 516.4,297.0 515.0,295.8 513.8,294.9 512.8,294.2 511.9,293.6 511.1,293.2 510.4,292.7 509.6,292.2 508.7,291.7Z"/></g>
<g fill="none" stroke="#1a1414" stroke-linecap="round" stroke-linejoin="round"><path d="M318.0,394.5 321.7,393.0 325.3,391.5 329.0,390.1 332.7,388.6 336.3,387.1 340.0,385.6" stroke-width="2.5"/>
<path d="M336.0,428.5 340.1,426.3 344.3,424.1 348.4,421.9 352.5,419.7 356.7,417.5 360.8,415.3" stroke-width="2.5"/>
<path d="M620.0,424.5 622.1,426.0 624.1,427.5 626.2,428.9 628.2,430.4 630.3,432.0 632.5,433.8 634.7,435.6 637.0,437.7 639.3,439.8 641.6,442.0 643.9,444.1 646.2,446.2" stroke-width="2.3"/>
<path d="M559.0,467.5 563.4,470.8 567.9,474.2 572.3,477.5 576.7,480.8 581.2,484.2 585.6,487.5" stroke-width="2.5"/>
<path d="M776.5,323.0 777.0,324.8 777.5,326.7 778.0,328.5 778.5,330.3 779.0,332.2 779.5,334.0" stroke-width="2.2"/>
<path d="M793.0,373.0 793.8,374.5 794.5,376.0 795.2,377.5 796.0,379.0 796.8,380.5 797.5,382.0" stroke-width="2"/>
<path d="M717.5,470.0 717.3,471.7 717.2,473.3 717.0,475.0 716.8,476.7 716.7,478.3 716.5,480.0" stroke-width="2"/></g>
<g stroke="#1b1b1b" stroke-linecap="round"><line x1="244" y1="192" x2="276.5" y2="190.3" stroke-width="9"/>
<line x1="247" y1="219" x2="280" y2="216.5" stroke-width="9.5"/>
<line x1="81.25" y1="280.5" x2="74.6" y2="305" stroke-width="9.4"/>
<line x1="115" y1="286" x2="107" y2="311" stroke-width="10"/>
<line x1="116.25" y1="421.25" x2="143" y2="438" stroke-width="8.5"/>
<line x1="95.6" y1="443" x2="123" y2="461.25" stroke-width="8.8"/>
<line x1="416.9" y1="171.9" x2="449.4" y2="165" stroke-width="8"/>
<line x1="426.9" y1="203.75" x2="460" y2="197.5" stroke-width="8"/>
<line x1="482.5" y1="213.5" x2="482.5" y2="237.5" stroke-width="10.5"/>
<line x1="522.2" y1="214" x2="522.2" y2="238.5" stroke-width="10.5"/>
<line x1="502.5" y1="268" x2="521.25" y2="290" stroke-width="10.5"/>
<line x1="470.6" y1="286.9" x2="490" y2="308.75" stroke-width="10"/>
<line x1="584.4" y1="186.9" x2="617.5" y2="191.25" stroke-width="8.5"/>
<line x1="577.5" y1="215.6" x2="610.6" y2="221.9" stroke-width="8"/>
<line x1="645" y1="251.9" x2="660.6" y2="273" stroke-width="10"/>
<line x1="677.5" y1="236.9" x2="693.75" y2="257.5" stroke-width="10"/>
<line x1="724.4" y1="373.75" x2="720" y2="400.6" stroke-width="10"/>
<line x1="755" y1="376.9" x2="750" y2="401.9" stroke-width="10"/>
<line x1="508.75" y1="418.75" x2="520.6" y2="441.9" stroke-width="10.5"/>
<line x1="534.4" y1="408.75" x2="545.6" y2="432.5" stroke-width="10.5"/></g>
<g class="lbl">
<text transform="translate(259.8 245.5) scale(1.238 1)">Prox</text>
<text transform="translate(260.3 274.7) scale(1.195 1)">RCA</text>
<text transform="translate(131.0 297.5) scale(1.184 1)">Mid</text>
<text transform="translate(131.0 326.0) scale(1.170 1)">RCA</text>
<text transform="translate(141.0 393.8) scale(1.200 1)">Dist</text>
<text transform="translate(142.8 422.7) scale(1.186 1)">RCA</text>
<text transform="translate(257.5 382.5) scale(1.167 1)">PDA</text>
<text transform="translate(466.0 165.0) scale(1.212 1)">LM</text>
<text transform="translate(402.5 240.0) scale(1.222 1)">Prox</text>
<text transform="translate(401.0 270.0) scale(1.186 1)">LCX</text>
<text transform="translate(425.0 331.0) scale(1.211 1)">Mid</text>
<text transform="translate(423.6 360.5) scale(1.228 1)">LCX</text>
<text transform="translate(455.5 439.7) scale(1.183 1)">Dist</text>
<text transform="translate(455.5 469.0) scale(1.260 1)">LCX</text>
<text transform="translate(630.0 164.0) scale(1.200 1)">Prox</text>
<text transform="translate(629.0 193.0) scale(1.216 1)">LAD</text>
<text transform="translate(624.0 301.0) scale(1.184 1)">Mid</text>
<text transform="translate(624.0 330.0) scale(1.159 1)">LAD</text>
<text transform="translate(739.0 242.5) scale(1.288 1)">D1</text>
<text transform="translate(772.5 306.5) scale(1.250 1)">D2</text>
<text transform="translate(619.8 394.5) scale(1.227 1)">OM1</text>
<text transform="translate(747.5 430.5) scale(1.163 1)">Dist</text>
<text transform="translate(747.5 460.0) scale(1.193 1)">LAD</text>
</g>
<g class="tbl" transform="rotate(-0.1 478 605)">
<rect x="24" y="512.1" width="650" height="25.5" fill="url(#gh)"/>
<rect x="679.5" y="512.1" width="254.2" height="25.5" fill="url(#gh)"/>
<rect x="22.3" y="541" width="651.7" height="27.7" fill="url(#gr)"/>
<rect x="679.5" y="541" width="254.2" height="27.7" fill="url(#gr)"/>
<rect x="22.3" y="572" width="651.7" height="26.5" fill="url(#gr)"/>
<rect x="679.5" y="572" width="254.2" height="26.5" fill="url(#gr)"/>
<rect x="22.3" y="602.5" width="651.7" height="27.3" fill="url(#gr)"/>
<rect x="679.5" y="602.5" width="254.2" height="27.3" fill="url(#gr)"/>
<rect x="22.3" y="632.9" width="651.7" height="28.1" fill="url(#gr)"/>
<rect x="679.5" y="632.9" width="254.2" height="28.1" fill="url(#gr)"/>
<rect x="22.3" y="664.2" width="651.7" height="34.0" fill="url(#gh)"/>
<rect x="679.5" y="664.2" width="254.2" height="34.0" fill="url(#gh)"/>
<text class="w" transform="translate(24.2 532.4) scale(1.245 1)">Coronary Artery</text>
<text class="k" transform="translate(22.7 563.0) scale(1.254 1)">Left Main (LM)</text>
<text class="k" transform="translate(22.0 592.4) scale(1.260 1)">Left Anterior Descending (LAD)</text>
<text class="k" transform="translate(22.0 622.8) scale(1.250 1)">Left Circumflex (LCX)</text>
<text class="k" transform="translate(21.0 654.0) scale(1.266 1)">Right Coronary Artery (RCA)</text>
<text class="wb" transform="translate(23.3 690.0) scale(1.266 1)">Total Agatston Score</text>
<text class="w" transform="translate(773.4 532.4) scale(1.287 1)">Score</text>
<text class="k" transform="translate(783.2 563.0) scale(1.208 1)">8.75</text>
<text class="k" transform="translate(769.3 592.4) scale(1.242 1)">383.99</text>
<text class="k" transform="translate(776.3 622.8) scale(1.215 1)">85.51</text>
<text class="k" transform="translate(776.0 654.0) scale(1.196 1)">44.23</text>
<text class="wb" transform="translate(768.8 690.0) scale(1.250 1)">522.48</text>
</g>
</g>
</svg>
</body></html>
